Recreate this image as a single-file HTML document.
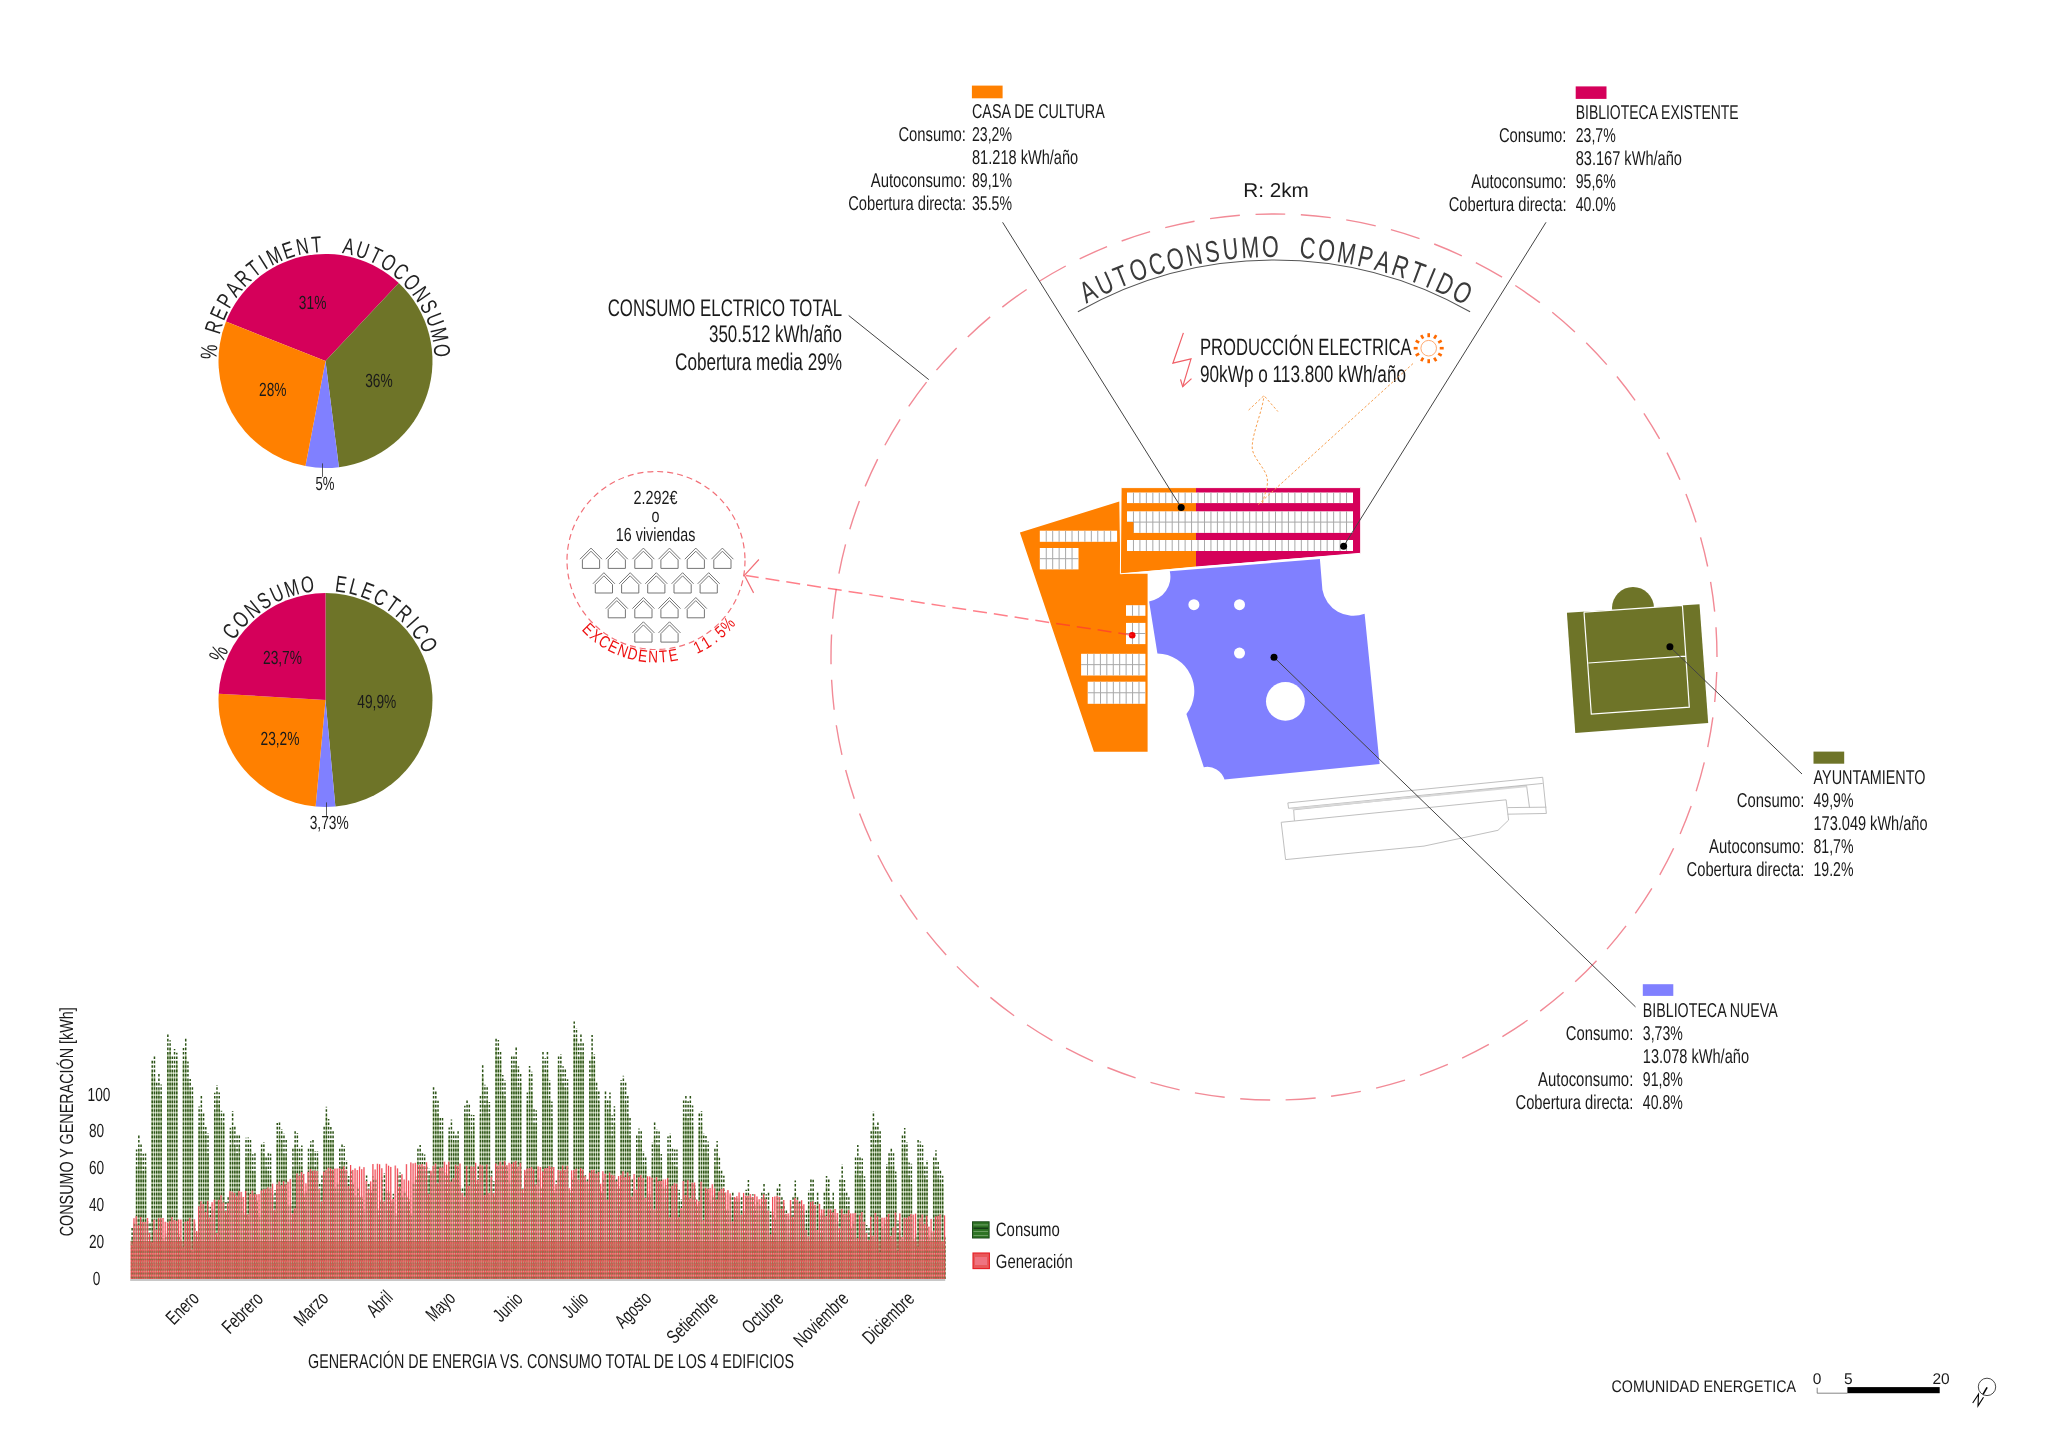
<!DOCTYPE html>
<html><head><meta charset="utf-8"><style>
html,body{margin:0;padding:0;background:#fff;-webkit-font-smoothing:antialiased;}
svg{display:block;font-family:"Liberation Sans", sans-serif;will-change:transform;}
text{text-rendering:geometricPrecision;}
</style></head><body>
<svg width="2048" height="1448" viewBox="0 0 2048 1448">
<rect width="2048" height="1448" fill="#fff"/>
<path d="M325.5,361 L226.01,321.61 A107,107 0 0 1 398.75,283.00 Z" fill="#d5005a"/>
<path d="M325.5,361 L398.75,283.00 A107,107 0 0 1 338.91,467.16 Z" fill="#6e7428"/>
<path d="M325.5,361 L338.91,467.16 A107,107 0 0 1 305.45,466.10 Z" fill="#8080ff"/>
<path d="M325.5,361 L305.45,466.10 A107,107 0 0 1 226.01,321.61 Z" fill="#ff8000"/>
<text x="312.6" y="309.1" font-size="19" text-anchor="middle" fill="#1a1a1a" textLength="27.5" lengthAdjust="spacingAndGlyphs">31%</text>
<text x="378.9" y="386.8" font-size="19" text-anchor="middle" fill="#1a1a1a" textLength="27.5" lengthAdjust="spacingAndGlyphs">36%</text>
<text x="272.8" y="395.7" font-size="19" text-anchor="middle" fill="#1a1a1a" textLength="27.5" lengthAdjust="spacingAndGlyphs">28%</text>
<line x1="322.5" y1="463.4" x2="322.5" y2="476.9" stroke="#333" stroke-width="0.8"/>
<text x="325.0" y="490.4" font-size="19" text-anchor="middle" fill="#1a1a1a" textLength="19.0" lengthAdjust="spacingAndGlyphs">5%</text>
<text transform="translate(216.84,352.34) rotate(-85.44) scale(0.72,1)" font-size="23" text-anchor="middle" fill="#222">%</text>
<text transform="translate(221.24,329.22) rotate(-73.05) scale(0.72,1)" font-size="23" text-anchor="middle" fill="#222">R</text>
<text transform="translate(225.98,316.53) rotate(-65.92) scale(0.72,1)" font-size="23" text-anchor="middle" fill="#222">E</text>
<text transform="translate(232.11,304.80) rotate(-58.96) scale(0.72,1)" font-size="23" text-anchor="middle" fill="#222">P</text>
<text transform="translate(239.60,293.90) rotate(-52.00) scale(0.72,1)" font-size="23" text-anchor="middle" fill="#222">A</text>
<text transform="translate(248.59,283.76) rotate(-44.87) scale(0.72,1)" font-size="23" text-anchor="middle" fill="#222">R</text>
<text transform="translate(258.52,275.01) rotate(-37.92) scale(0.72,1)" font-size="23" text-anchor="middle" fill="#222">T</text>
<text transform="translate(267.23,268.88) rotate(-32.31) scale(0.72,1)" font-size="23" text-anchor="middle" fill="#222">I</text>
<text transform="translate(277.66,263.06) rotate(-26.03) scale(0.72,1)" font-size="23" text-anchor="middle" fill="#222">M</text>
<text transform="translate(290.79,257.67) rotate(-18.57) scale(0.72,1)" font-size="23" text-anchor="middle" fill="#222">E</text>
<text transform="translate(303.88,254.17) rotate(-11.44) scale(0.72,1)" font-size="23" text-anchor="middle" fill="#222">N</text>
<text transform="translate(316.98,252.33) rotate(-4.48) scale(0.72,1)" font-size="23" text-anchor="middle" fill="#222">T</text>
<text transform="translate(347.20,254.18) rotate(11.48) scale(0.72,1)" font-size="23" text-anchor="middle" fill="#222">A</text>
<text transform="translate(360.28,257.70) rotate(18.61) scale(0.72,1)" font-size="23" text-anchor="middle" fill="#222">U</text>
<text transform="translate(372.54,262.67) rotate(25.57) scale(0.72,1)" font-size="23" text-anchor="middle" fill="#222">T</text>
<text transform="translate(384.37,269.27) rotate(32.69) scale(0.72,1)" font-size="23" text-anchor="middle" fill="#222">O</text>
<text transform="translate(395.79,277.69) rotate(40.16) scale(0.72,1)" font-size="23" text-anchor="middle" fill="#222">C</text>
<text transform="translate(406.02,287.53) rotate(47.62) scale(0.72,1)" font-size="23" text-anchor="middle" fill="#222">O</text>
<text transform="translate(414.88,298.62) rotate(55.09) scale(0.72,1)" font-size="23" text-anchor="middle" fill="#222">N</text>
<text transform="translate(421.93,310.19) rotate(62.22) scale(0.72,1)" font-size="23" text-anchor="middle" fill="#222">S</text>
<text transform="translate(427.49,322.55) rotate(69.35) scale(0.72,1)" font-size="23" text-anchor="middle" fill="#222">U</text>
<text transform="translate(431.70,336.44) rotate(76.98) scale(0.72,1)" font-size="23" text-anchor="middle" fill="#222">M</text>
<text transform="translate(434.05,351.09) rotate(84.78) scale(0.72,1)" font-size="23" text-anchor="middle" fill="#222">O</text>
<path d="M325.5,700 L325.50,593.00 A107,107 0 0 1 335.38,806.54 Z" fill="#6e7428"/>
<path d="M325.5,700 L335.38,806.54 A107,107 0 0 1 315.62,806.54 Z" fill="#8080ff"/>
<path d="M325.5,700 L315.62,806.54 A107,107 0 0 1 218.69,693.65 Z" fill="#ff8000"/>
<path d="M325.5,700 L218.69,693.65 A107,107 0 0 1 325.50,593.00 Z" fill="#d5005a"/>
<text x="282.5" y="663.6" font-size="19" text-anchor="middle" fill="#1a1a1a" textLength="39.0" lengthAdjust="spacingAndGlyphs">23,7%</text>
<text x="376.8" y="707.5" font-size="19" text-anchor="middle" fill="#1a1a1a" textLength="39.0" lengthAdjust="spacingAndGlyphs">49,9%</text>
<text x="280.0" y="745.4" font-size="19" text-anchor="middle" fill="#1a1a1a" textLength="39.0" lengthAdjust="spacingAndGlyphs">23,2%</text>
<line x1="326.5" y1="802.4" x2="326.5" y2="815.9" stroke="#333" stroke-width="0.8"/>
<text x="329.2" y="829.3" font-size="19" text-anchor="middle" fill="#1a1a1a" textLength="39.0" lengthAdjust="spacingAndGlyphs">3,73%</text>
<text transform="translate(225.57,656.47) rotate(-66.46) scale(0.72,1)" font-size="23" text-anchor="middle" fill="#222">%</text>
<text transform="translate(237.37,635.86) rotate(-53.95) scale(0.72,1)" font-size="23" text-anchor="middle" fill="#222">C</text>
<text transform="translate(246.53,624.87) rotate(-46.43) scale(0.72,1)" font-size="23" text-anchor="middle" fill="#222">O</text>
<text transform="translate(257.05,615.17) rotate(-38.90) scale(0.72,1)" font-size="23" text-anchor="middle" fill="#222">N</text>
<text transform="translate(268.20,607.27) rotate(-31.71) scale(0.72,1)" font-size="23" text-anchor="middle" fill="#222">S</text>
<text transform="translate(280.26,600.83) rotate(-24.52) scale(0.72,1)" font-size="23" text-anchor="middle" fill="#222">U</text>
<text transform="translate(293.94,595.67) rotate(-16.83) scale(0.72,1)" font-size="23" text-anchor="middle" fill="#222">M</text>
<text transform="translate(308.51,592.33) rotate(-8.97) scale(0.72,1)" font-size="23" text-anchor="middle" fill="#222">O</text>
<text transform="translate(340.08,591.98) rotate(7.69) scale(0.72,1)" font-size="23" text-anchor="middle" fill="#222">E</text>
<text transform="translate(352.55,594.41) rotate(14.37) scale(0.72,1)" font-size="23" text-anchor="middle" fill="#222">L</text>
<text transform="translate(364.65,598.27) rotate(21.05) scale(0.72,1)" font-size="23" text-anchor="middle" fill="#222">E</text>
<text transform="translate(377.07,603.97) rotate(28.24) scale(0.72,1)" font-size="23" text-anchor="middle" fill="#222">C</text>
<text transform="translate(388.42,610.99) rotate(35.26) scale(0.72,1)" font-size="23" text-anchor="middle" fill="#222">T</text>
<text transform="translate(398.82,619.35) rotate(42.27) scale(0.72,1)" font-size="23" text-anchor="middle" fill="#222">R</text>
<text transform="translate(406.85,627.46) rotate(48.28) scale(0.72,1)" font-size="23" text-anchor="middle" fill="#222">I</text>
<text transform="translate(413.99,636.36) rotate(54.28) scale(0.72,1)" font-size="23" text-anchor="middle" fill="#222">C</text>
<text transform="translate(421.56,648.50) rotate(61.80) scale(0.72,1)" font-size="23" text-anchor="middle" fill="#222">O</text>
<rect x="971.9" y="85.6" width="30.7" height="12.7" fill="#ff8000"/>
<text x="972.0" y="118.4" font-size="20" text-anchor="start" fill="#1a1a1a" textLength="132.8" lengthAdjust="spacingAndGlyphs">CASA DE CULTURA</text>
<text x="966.0" y="141.4" font-size="20" text-anchor="end" fill="#1a1a1a" textLength="67.6" lengthAdjust="spacingAndGlyphs">Consumo:</text>
<text x="972.0" y="141.4" font-size="20" text-anchor="start" fill="#1a1a1a" textLength="40.0" lengthAdjust="spacingAndGlyphs">23,2%</text>
<text x="972.0" y="164.4" font-size="20" text-anchor="start" fill="#1a1a1a" textLength="106.2" lengthAdjust="spacingAndGlyphs">81.218 kWh/año</text>
<text x="966.0" y="187.4" font-size="20" text-anchor="end" fill="#1a1a1a" textLength="95.3" lengthAdjust="spacingAndGlyphs">Autoconsumo:</text>
<text x="972.0" y="187.4" font-size="20" text-anchor="start" fill="#1a1a1a" textLength="40.0" lengthAdjust="spacingAndGlyphs">89,1%</text>
<text x="966.0" y="210.4" font-size="20" text-anchor="end" fill="#1a1a1a" textLength="117.8" lengthAdjust="spacingAndGlyphs">Cobertura directa:</text>
<text x="972.0" y="210.4" font-size="20" text-anchor="start" fill="#1a1a1a" textLength="40.0" lengthAdjust="spacingAndGlyphs">35.5%</text>
<rect x="1575.7" y="86.4" width="30.8" height="12.5" fill="#d5005a"/>
<text x="1575.7" y="118.9" font-size="20" text-anchor="start" fill="#1a1a1a" textLength="163.0" lengthAdjust="spacingAndGlyphs">BIBLIOTECA EXISTENTE</text>
<text x="1566.5" y="141.9" font-size="20" text-anchor="end" fill="#1a1a1a" textLength="67.6" lengthAdjust="spacingAndGlyphs">Consumo:</text>
<text x="1575.7" y="141.9" font-size="20" text-anchor="start" fill="#1a1a1a" textLength="40.0" lengthAdjust="spacingAndGlyphs">23,7%</text>
<text x="1575.7" y="164.9" font-size="20" text-anchor="start" fill="#1a1a1a" textLength="106.2" lengthAdjust="spacingAndGlyphs">83.167 kWh/año</text>
<text x="1566.5" y="187.9" font-size="20" text-anchor="end" fill="#1a1a1a" textLength="95.3" lengthAdjust="spacingAndGlyphs">Autoconsumo:</text>
<text x="1575.7" y="187.9" font-size="20" text-anchor="start" fill="#1a1a1a" textLength="40.0" lengthAdjust="spacingAndGlyphs">95,6%</text>
<text x="1566.5" y="210.9" font-size="20" text-anchor="end" fill="#1a1a1a" textLength="117.8" lengthAdjust="spacingAndGlyphs">Cobertura directa:</text>
<text x="1575.7" y="210.9" font-size="20" text-anchor="start" fill="#1a1a1a" textLength="40.0" lengthAdjust="spacingAndGlyphs">40.0%</text>
<rect x="1813.5" y="751.6" width="30.7" height="12.1" fill="#6e7428"/>
<text x="1813.5" y="784.0" font-size="20" text-anchor="start" fill="#1a1a1a" textLength="112.0" lengthAdjust="spacingAndGlyphs">AYUNTAMIENTO</text>
<text x="1804.4" y="807.0" font-size="20" text-anchor="end" fill="#1a1a1a" textLength="67.6" lengthAdjust="spacingAndGlyphs">Consumo:</text>
<text x="1813.5" y="807.0" font-size="20" text-anchor="start" fill="#1a1a1a" textLength="40.0" lengthAdjust="spacingAndGlyphs">49,9%</text>
<text x="1813.5" y="830.0" font-size="20" text-anchor="start" fill="#1a1a1a" textLength="114.0" lengthAdjust="spacingAndGlyphs">173.049 kWh/año</text>
<text x="1804.4" y="853.0" font-size="20" text-anchor="end" fill="#1a1a1a" textLength="95.3" lengthAdjust="spacingAndGlyphs">Autoconsumo:</text>
<text x="1813.5" y="853.0" font-size="20" text-anchor="start" fill="#1a1a1a" textLength="40.0" lengthAdjust="spacingAndGlyphs">81,7%</text>
<text x="1804.4" y="876.0" font-size="20" text-anchor="end" fill="#1a1a1a" textLength="117.8" lengthAdjust="spacingAndGlyphs">Cobertura directa:</text>
<text x="1813.5" y="876.0" font-size="20" text-anchor="start" fill="#1a1a1a" textLength="40.0" lengthAdjust="spacingAndGlyphs">19.2%</text>
<rect x="1642.8" y="984.2" width="30.5" height="11.7" fill="#8080ff"/>
<text x="1642.8" y="1016.9" font-size="20" text-anchor="start" fill="#1a1a1a" textLength="135.0" lengthAdjust="spacingAndGlyphs">BIBLIOTECA NUEVA</text>
<text x="1633.3" y="1039.8" font-size="20" text-anchor="end" fill="#1a1a1a" textLength="67.6" lengthAdjust="spacingAndGlyphs">Consumo:</text>
<text x="1642.8" y="1039.8" font-size="20" text-anchor="start" fill="#1a1a1a" textLength="40.0" lengthAdjust="spacingAndGlyphs">3,73%</text>
<text x="1642.8" y="1062.7" font-size="20" text-anchor="start" fill="#1a1a1a" textLength="106.2" lengthAdjust="spacingAndGlyphs">13.078 kWh/año</text>
<text x="1633.3" y="1085.6" font-size="20" text-anchor="end" fill="#1a1a1a" textLength="95.3" lengthAdjust="spacingAndGlyphs">Autoconsumo:</text>
<text x="1642.8" y="1085.6" font-size="20" text-anchor="start" fill="#1a1a1a" textLength="40.0" lengthAdjust="spacingAndGlyphs">91,8%</text>
<text x="1633.3" y="1108.5" font-size="20" text-anchor="end" fill="#1a1a1a" textLength="117.8" lengthAdjust="spacingAndGlyphs">Cobertura directa:</text>
<text x="1642.8" y="1108.5" font-size="20" text-anchor="start" fill="#1a1a1a" textLength="40.0" lengthAdjust="spacingAndGlyphs">40.8%</text>
<circle cx="1274" cy="657" r="443" fill="none" stroke="#f28a96" stroke-width="1.4" stroke-dasharray="30 15.631" stroke-dashoffset="30.5"/>
<text x="1276.0" y="197.3" font-size="20" text-anchor="middle" fill="#1a1a1a" textLength="65.6" lengthAdjust="spacingAndGlyphs">R: 2km</text>
<path d="M1077.9,311.8 A397,397 0 0 1 1470.1,311.8" fill="none" stroke="#555" stroke-width="1.1"/>
<text transform="translate(1092.65,300.47) rotate(-26.96) scale(0.72,1)" font-size="30" text-anchor="middle" fill="#3a3a3a">A</text>
<text transform="translate(1108.83,292.70) rotate(-24.39) scale(0.72,1)" font-size="30" text-anchor="middle" fill="#3a3a3a">U</text>
<text transform="translate(1124.94,285.81) rotate(-21.88) scale(0.72,1)" font-size="30" text-anchor="middle" fill="#3a3a3a">T</text>
<text transform="translate(1141.74,279.50) rotate(-19.31) scale(0.72,1)" font-size="30" text-anchor="middle" fill="#3a3a3a">O</text>
<text transform="translate(1159.61,273.71) rotate(-16.62) scale(0.72,1)" font-size="30" text-anchor="middle" fill="#3a3a3a">C</text>
<text transform="translate(1177.73,268.76) rotate(-13.93) scale(0.72,1)" font-size="30" text-anchor="middle" fill="#3a3a3a">O</text>
<text transform="translate(1196.06,264.67) rotate(-11.24) scale(0.72,1)" font-size="30" text-anchor="middle" fill="#3a3a3a">N</text>
<text transform="translate(1213.74,261.57) rotate(-8.67) scale(0.72,1)" font-size="30" text-anchor="middle" fill="#3a3a3a">S</text>
<text transform="translate(1231.53,259.26) rotate(-6.09) scale(0.72,1)" font-size="30" text-anchor="middle" fill="#3a3a3a">U</text>
<text transform="translate(1250.67,257.68) rotate(-3.34) scale(0.72,1)" font-size="30" text-anchor="middle" fill="#3a3a3a">M</text>
<text transform="translate(1270.28,257.02) rotate(-0.53) scale(0.72,1)" font-size="30" text-anchor="middle" fill="#3a3a3a">O</text>
<text transform="translate(1306.68,258.34) rotate(4.69) scale(0.72,1)" font-size="30" text-anchor="middle" fill="#3a3a3a">C</text>
<text transform="translate(1325.36,260.31) rotate(7.38) scale(0.72,1)" font-size="30" text-anchor="middle" fill="#3a3a3a">O</text>
<text transform="translate(1344.75,263.31) rotate(10.19) scale(0.72,1)" font-size="30" text-anchor="middle" fill="#3a3a3a">M</text>
<text transform="translate(1363.16,267.06) rotate(12.88) scale(0.72,1)" font-size="30" text-anchor="middle" fill="#3a3a3a">P</text>
<text transform="translate(1380.15,271.34) rotate(15.39) scale(0.72,1)" font-size="30" text-anchor="middle" fill="#3a3a3a">A</text>
<text transform="translate(1397.35,276.49) rotate(17.96) scale(0.72,1)" font-size="30" text-anchor="middle" fill="#3a3a3a">R</text>
<text transform="translate(1413.89,282.26) rotate(20.47) scale(0.72,1)" font-size="30" text-anchor="middle" fill="#3a3a3a">T</text>
<text transform="translate(1427.07,287.45) rotate(22.50) scale(0.72,1)" font-size="30" text-anchor="middle" fill="#3a3a3a">I</text>
<text transform="translate(1440.82,293.45) rotate(24.65) scale(0.72,1)" font-size="30" text-anchor="middle" fill="#3a3a3a">D</text>
<text transform="translate(1457.71,301.68) rotate(27.34) scale(0.72,1)" font-size="30" text-anchor="middle" fill="#3a3a3a">O</text>
<text x="842.0" y="315.5" font-size="24" text-anchor="end" fill="#1a1a1a" textLength="234.3" lengthAdjust="spacingAndGlyphs">CONSUMO ELCTRICO TOTAL</text>
<text x="842.0" y="342.1" font-size="24" text-anchor="end" fill="#1a1a1a" textLength="133.0" lengthAdjust="spacingAndGlyphs">350.512 kWh/año</text>
<text x="842.0" y="369.5" font-size="24" text-anchor="end" fill="#1a1a1a" textLength="167.0" lengthAdjust="spacingAndGlyphs">Cobertura media 29%</text>
<text x="1200.0" y="355.3" font-size="23.5" text-anchor="start" fill="#1a1a1a" textLength="211.7" lengthAdjust="spacingAndGlyphs">PRODUCCIÓN ELECTRICA</text>
<text x="1200.0" y="382.3" font-size="23.5" text-anchor="start" fill="#1a1a1a" textLength="206.0" lengthAdjust="spacingAndGlyphs">90kWp o 113.800 kWh/año</text>
<polyline points="1183.4,332.9 1172.9,363.2 1191,358.8 1182.7,386.6" fill="none" stroke="#f06068" stroke-width="1.2"/>
<polyline points="1180.5,379.3 1182.7,386.6 1191.5,378.6" fill="none" stroke="#f06068" stroke-width="1.2"/>
<circle cx="1428.7" cy="348.2" r="7.8" fill="none" stroke="#ffa060" stroke-width="0.9"/>
<line x1="1439.70" y1="348.20" x2="1443.70" y2="348.20" stroke="#ff6a00" stroke-width="2.6"/>
<line x1="1438.23" y1="353.70" x2="1441.69" y2="355.70" stroke="#ff6a00" stroke-width="2.6"/>
<line x1="1434.20" y1="357.73" x2="1436.20" y2="361.19" stroke="#ff6a00" stroke-width="2.6"/>
<line x1="1428.70" y1="359.20" x2="1428.70" y2="363.20" stroke="#ff6a00" stroke-width="2.6"/>
<line x1="1423.20" y1="357.73" x2="1421.20" y2="361.19" stroke="#ff6a00" stroke-width="2.6"/>
<line x1="1419.17" y1="353.70" x2="1415.71" y2="355.70" stroke="#ff6a00" stroke-width="2.6"/>
<line x1="1417.70" y1="348.20" x2="1413.70" y2="348.20" stroke="#ff6a00" stroke-width="2.6"/>
<line x1="1419.17" y1="342.70" x2="1415.71" y2="340.70" stroke="#ff6a00" stroke-width="2.6"/>
<line x1="1423.20" y1="338.67" x2="1421.20" y2="335.21" stroke="#ff6a00" stroke-width="2.6"/>
<line x1="1428.70" y1="337.20" x2="1428.70" y2="333.20" stroke="#ff6a00" stroke-width="2.6"/>
<line x1="1434.20" y1="338.67" x2="1436.20" y2="335.21" stroke="#ff6a00" stroke-width="2.6"/>
<line x1="1438.23" y1="342.70" x2="1441.69" y2="340.70" stroke="#ff6a00" stroke-width="2.6"/>
<polygon points="1019.9,532.5 1119.3,501.5 1120.4,573.8 1147.6,573.8 1147.6,751.7 1093.9,751.7" fill="#ff8000"/>
<polygon points="1121.1,487.6 1196,487.6 1196,566.5 1120.4,573.8" fill="#ff8000"/>
<polygon points="1196,487.6 1360.7,487.6 1360.7,553.3 1196,566.5" fill="#d5005a"/>
<polygon points="1121.1,487.6 1360.7,487.6 1360.7,553.3 1120.4,573.8" fill="none" stroke="#fff" stroke-width="1"/>
<rect x="1127" y="492.5" width="226.0" height="10.6" fill="#fff"/>
<path d="M1133.46,492.5V503.1M1139.91,492.5V503.1M1146.37,492.5V503.1M1152.83,492.5V503.1M1159.29,492.5V503.1M1165.74,492.5V503.1M1172.20,492.5V503.1M1178.66,492.5V503.1M1185.11,492.5V503.1M1191.57,492.5V503.1M1198.03,492.5V503.1M1204.49,492.5V503.1M1210.94,492.5V503.1M1217.40,492.5V503.1M1223.86,492.5V503.1M1230.31,492.5V503.1M1236.77,492.5V503.1M1243.23,492.5V503.1M1249.69,492.5V503.1M1256.14,492.5V503.1M1262.60,492.5V503.1M1269.06,492.5V503.1M1275.51,492.5V503.1M1281.97,492.5V503.1M1288.43,492.5V503.1M1294.89,492.5V503.1M1301.34,492.5V503.1M1307.80,492.5V503.1M1314.26,492.5V503.1M1320.71,492.5V503.1M1327.17,492.5V503.1M1333.63,492.5V503.1M1340.09,492.5V503.1M1346.54,492.5V503.1" stroke="#a8a8a8" stroke-width="1" fill="none"/>
<rect x="1127" y="511.3" width="226.0" height="21.6" fill="#fff"/>
<path d="M1133.46,511.3V532.9M1139.91,511.3V532.9M1146.37,511.3V532.9M1152.83,511.3V532.9M1159.29,511.3V532.9M1165.74,511.3V532.9M1172.20,511.3V532.9M1178.66,511.3V532.9M1185.11,511.3V532.9M1191.57,511.3V532.9M1198.03,511.3V532.9M1204.49,511.3V532.9M1210.94,511.3V532.9M1217.40,511.3V532.9M1223.86,511.3V532.9M1230.31,511.3V532.9M1236.77,511.3V532.9M1243.23,511.3V532.9M1249.69,511.3V532.9M1256.14,511.3V532.9M1262.60,511.3V532.9M1269.06,511.3V532.9M1275.51,511.3V532.9M1281.97,511.3V532.9M1288.43,511.3V532.9M1294.89,511.3V532.9M1301.34,511.3V532.9M1307.80,511.3V532.9M1314.26,511.3V532.9M1320.71,511.3V532.9M1327.17,511.3V532.9M1333.63,511.3V532.9M1340.09,511.3V532.9M1346.54,511.3V532.9M1127,522.10H1353" stroke="#a8a8a8" stroke-width="1" fill="none"/>
<rect x="1127" y="522" width="6.5" height="11" fill="#ff8000"/>
<rect x="1127" y="540" width="226.0" height="11.0" fill="#fff"/>
<path d="M1133.46,540V551M1139.91,540V551M1146.37,540V551M1152.83,540V551M1159.29,540V551M1165.74,540V551M1172.20,540V551M1178.66,540V551M1185.11,540V551M1191.57,540V551M1198.03,540V551M1204.49,540V551M1210.94,540V551M1217.40,540V551M1223.86,540V551M1230.31,540V551M1236.77,540V551M1243.23,540V551M1249.69,540V551M1256.14,540V551M1262.60,540V551M1269.06,540V551M1275.51,540V551M1281.97,540V551M1288.43,540V551M1294.89,540V551M1301.34,540V551M1307.80,540V551M1314.26,540V551M1320.71,540V551M1327.17,540V551M1333.63,540V551M1340.09,540V551M1346.54,540V551" stroke="#a8a8a8" stroke-width="1" fill="none"/>
<rect x="1039.8" y="530.7" width="77.3" height="11.1" fill="#fff"/>
<path d="M1046.24,530.7V541.8M1052.68,530.7V541.8M1059.12,530.7V541.8M1065.57,530.7V541.8M1072.01,530.7V541.8M1078.45,530.7V541.8M1084.89,530.7V541.8M1091.33,530.7V541.8M1097.77,530.7V541.8M1104.22,530.7V541.8M1110.66,530.7V541.8" stroke="#a8a8a8" stroke-width="1" fill="none"/>
<rect x="1039.8" y="548" width="38.7" height="21.4" fill="#fff"/>
<path d="M1046.25,548V569.4M1052.70,548V569.4M1059.15,548V569.4M1065.60,548V569.4M1072.05,548V569.4M1039.8,558.70H1078.5" stroke="#a8a8a8" stroke-width="1" fill="none"/>
<rect x="1126" y="605.2" width="19.4" height="10.6" fill="#fff"/>
<path d="M1132.47,605.2V615.8M1138.93,605.2V615.8" stroke="#a8a8a8" stroke-width="1" fill="none"/>
<rect x="1126" y="622.9" width="19.4" height="21.2" fill="#fff"/>
<path d="M1132.47,622.9V644.1M1138.93,622.9V644.1M1126,633.50H1145.4" stroke="#a8a8a8" stroke-width="1" fill="none"/>
<rect x="1081.1" y="653.8" width="64.3" height="21.7" fill="#fff"/>
<path d="M1087.53,653.8V675.5M1093.96,653.8V675.5M1100.39,653.8V675.5M1106.82,653.8V675.5M1113.25,653.8V675.5M1119.68,653.8V675.5M1126.11,653.8V675.5M1132.54,653.8V675.5M1138.97,653.8V675.5M1081.1,664.65H1145.4" stroke="#a8a8a8" stroke-width="1" fill="none"/>
<rect x="1087.7" y="681.7" width="57.7" height="22.1" fill="#fff"/>
<path d="M1094.11,681.7V703.8M1100.52,681.7V703.8M1106.93,681.7V703.8M1113.34,681.7V703.8M1119.76,681.7V703.8M1126.17,681.7V703.8M1132.58,681.7V703.8M1138.99,681.7V703.8M1087.7,692.75H1145.4" stroke="#a8a8a8" stroke-width="1" fill="none"/>
<path d="M1169.8,571.2 L1319.9,559.1 L1322.4,589.8 A31.5,31.5 0 0 0 1364.6,613.8 L1379.6,763.9 L1224.5,779.6 A18,18 0 0 0 1203.8,767.2 L1186.4,714.1 A37.5,37.5 0 0 0 1157.4,653.6 L1149.1,601.4 A25,25 0 0 0 1169.8,571.2 Z" fill="#8080ff"/>
<circle cx="1193.9" cy="604.7" r="5.5" fill="#fff"/>
<circle cx="1239.5" cy="604.7" r="5.5" fill="#fff"/>
<circle cx="1239.5" cy="653.1" r="5.5" fill="#fff"/>
<circle cx="1285.4" cy="701.4" r="19.4" fill="#fff"/>
<circle cx="1633" cy="608" r="21" fill="#6e7428"/>
<polygon points="1566.9,612.8 1699.5,604.2 1708.2,723.1 1575.3,732.9" fill="#6e7428"/>
<path d="M1584,612.2 L1591.3,714 L1689.3,707.2 L1682.4,605.3 M1588.5,663 L1685.8,656.1 M1584,612.2 L1682.4,605.3" stroke="#fff" stroke-width="1.2" fill="none"/>
<g fill="none" stroke="#b8b8b8" stroke-width="0.9"><polygon points="1281.2,822.3 1506.1,799.8 1508.6,820.1 1498,830.3 1424,846.1 1285.6,859.6"/><path d="M1287.83,802.92 L1542.70,777.28 L1546.36,813.46 L1507.55,814.20 M1287.83,802.92 L1288.56,808.34 L1542.70,783.44 M1293.69,809.80 L1526.59,785.63 L1529.52,807.61 M1293.69,809.80 L1294.42,820.79 M1507.55,807.61 L1546.36,807.17"/></g>
<polygon points="1288.56,808.34 1526.59,785.63 1526.59,787.2 1293.69,809.8" fill="#d8d8d8"/>
<path d="M1262.5,503.1 C1265,492 1270,484 1266,474 C1260,462 1251,455 1252.3,445 C1253,432 1262,412 1264,396" fill="none" stroke="#f7a050" stroke-width="1" stroke-dasharray="2.5 2"/>
<polyline points="1248.6,410.1 1264,395.6 1277.9,411.5" fill="none" stroke="#f7a050" stroke-width="1" stroke-dasharray="2.5 2"/>
<line x1="1258.1" y1="504.6" x2="1413.4" y2="363.2" stroke="#f7a050" stroke-width="1" stroke-dasharray="2.5 2"/>
<line x1="1002.6" y1="222.3" x2="1181.2" y2="507.5" stroke="#444" stroke-width="1"/>
<line x1="1546" y1="222.3" x2="1343.6" y2="546.2" stroke="#444" stroke-width="1"/>
<line x1="848.7" y1="315.5" x2="928.75" y2="379.6" stroke="#444" stroke-width="1"/>
<line x1="1669.9" y1="646.8" x2="1802" y2="774" stroke="#444" stroke-width="1"/>
<line x1="1274" y1="657.3" x2="1635.5" y2="1006.9" stroke="#444" stroke-width="1"/>
<circle cx="1181.2" cy="507.5" r="3.5" fill="#000"/>
<circle cx="1343.6" cy="546.2" r="3.5" fill="#000"/>
<circle cx="1669.9" cy="646.8" r="3.5" fill="#000"/>
<circle cx="1274" cy="657.3" r="3.5" fill="#000"/>
<circle cx="1132.2" cy="635.2" r="3.3" fill="#e00"/>
<line x1="1132.2" y1="635.2" x2="746" y2="575.6" stroke="#ff2a3a" stroke-opacity="0.6" stroke-width="1.5" stroke-dasharray="14 7"/>
<polyline points="758.9,559.5 744.4,575.4 753.6,592.9" fill="none" stroke="#f27078" stroke-width="1.2"/>
<circle cx="656" cy="560.5" r="89" fill="none" stroke="#f27078" stroke-width="1.2" stroke-dasharray="6 4"/>
<text x="655.6" y="504.1" font-size="19" text-anchor="middle" fill="#1a1a1a" textLength="44.0" lengthAdjust="spacingAndGlyphs">2.292€</text>
<text x="655.6" y="522.0" font-size="19" text-anchor="middle" fill="#1a1a1a" textLength="8.0" lengthAdjust="spacingAndGlyphs">o</text>
<text x="655.6" y="540.5" font-size="19" text-anchor="middle" fill="#1a1a1a" textLength="79.5" lengthAdjust="spacingAndGlyphs">16 viviendas</text>
<path d="M580.0,559.2 L591.0,548.1 L602.0,559.2 M582.4,568.4 V559.9 L591.0,551.2 L599.6,559.9 V568.4 Z" fill="none" stroke="#6e6e6e" stroke-width="0.95"/>
<path d="M605.8,559.2 L616.8,548.1 L627.8,559.2 M608.2,568.4 V559.9 L616.8,551.2 L625.4,559.9 V568.4 Z" fill="none" stroke="#6e6e6e" stroke-width="0.95"/>
<path d="M632.4,559.2 L643.4,548.1 L654.4,559.2 M634.8,568.4 V559.9 L643.4,551.2 L652.0,559.9 V568.4 Z" fill="none" stroke="#6e6e6e" stroke-width="0.95"/>
<path d="M658.5,559.2 L669.5,548.1 L680.5,559.2 M660.9,568.4 V559.9 L669.5,551.2 L678.1,559.9 V568.4 Z" fill="none" stroke="#6e6e6e" stroke-width="0.95"/>
<path d="M684.8,559.2 L695.8,548.1 L706.8,559.2 M687.2,568.4 V559.9 L695.8,551.2 L704.4,559.9 V568.4 Z" fill="none" stroke="#6e6e6e" stroke-width="0.95"/>
<path d="M711.4,559.2 L722.4,548.1 L733.4,559.2 M713.8,568.4 V559.9 L722.4,551.2 L731.0,559.9 V568.4 Z" fill="none" stroke="#6e6e6e" stroke-width="0.95"/>
<path d="M592.9,583.8 L603.9,572.7 L614.9,583.8 M595.3,593.0 V584.5 L603.9,575.8 L612.5,584.5 V593.0 Z" fill="none" stroke="#6e6e6e" stroke-width="0.95"/>
<path d="M619.2,583.8 L630.2,572.7 L641.2,583.8 M621.6,593.0 V584.5 L630.2,575.8 L638.8,584.5 V593.0 Z" fill="none" stroke="#6e6e6e" stroke-width="0.95"/>
<path d="M645.3,583.8 L656.3,572.7 L667.3,583.8 M647.7,593.0 V584.5 L656.3,575.8 L664.9,584.5 V593.0 Z" fill="none" stroke="#6e6e6e" stroke-width="0.95"/>
<path d="M671.6,583.8 L682.6,572.7 L693.6,583.8 M674.0,593.0 V584.5 L682.6,575.8 L691.2,584.5 V593.0 Z" fill="none" stroke="#6e6e6e" stroke-width="0.95"/>
<path d="M697.7,583.8 L708.7,572.7 L719.7,583.8 M700.1,593.0 V584.5 L708.7,575.8 L717.3,584.5 V593.0 Z" fill="none" stroke="#6e6e6e" stroke-width="0.95"/>
<path d="M605.8,608.6 L616.8,597.5 L627.8,608.6 M608.2,617.8 V609.3 L616.8,600.6 L625.4,609.3 V617.8 Z" fill="none" stroke="#6e6e6e" stroke-width="0.95"/>
<path d="M632.4,608.6 L643.4,597.5 L654.4,608.6 M634.8,617.8 V609.3 L643.4,600.6 L652.0,609.3 V617.8 Z" fill="none" stroke="#6e6e6e" stroke-width="0.95"/>
<path d="M658.5,608.6 L669.5,597.5 L680.5,608.6 M660.9,617.8 V609.3 L669.5,600.6 L678.1,609.3 V617.8 Z" fill="none" stroke="#6e6e6e" stroke-width="0.95"/>
<path d="M684.8,608.6 L695.8,597.5 L706.8,608.6 M687.2,617.8 V609.3 L695.8,600.6 L704.4,609.3 V617.8 Z" fill="none" stroke="#6e6e6e" stroke-width="0.95"/>
<path d="M632.4,632.9 L643.4,621.8 L654.4,632.9 M634.8,642.1 V633.6 L643.4,624.9 L652.0,633.6 V642.1 Z" fill="none" stroke="#6e6e6e" stroke-width="0.95"/>
<path d="M658.5,632.9 L669.5,621.8 L680.5,632.9 M660.9,642.1 V633.6 L669.5,624.9 L678.1,633.6 V642.1 Z" fill="none" stroke="#6e6e6e" stroke-width="0.95"/>
<text transform="translate(584.38,633.12) rotate(44.60) scale(0.8,1)" font-size="17" text-anchor="middle" fill="#ee1111">E</text>
<text transform="translate(592.41,640.25) rotate(38.56) scale(0.8,1)" font-size="17" text-anchor="middle" fill="#ee1111">X</text>
<text transform="translate(601.28,646.58) rotate(32.44) scale(0.8,1)" font-size="17" text-anchor="middle" fill="#ee1111">C</text>
<text transform="translate(610.78,651.93) rotate(26.32) scale(0.8,1)" font-size="17" text-anchor="middle" fill="#ee1111">E</text>
<text transform="translate(620.78,656.23) rotate(20.20) scale(0.8,1)" font-size="17" text-anchor="middle" fill="#ee1111">N</text>
<text transform="translate(631.34,659.47) rotate(13.99) scale(0.8,1)" font-size="17" text-anchor="middle" fill="#ee1111">D</text>
<text transform="translate(642.04,661.54) rotate(7.87) scale(0.8,1)" font-size="17" text-anchor="middle" fill="#ee1111">E</text>
<text transform="translate(652.89,662.45) rotate(1.75) scale(0.8,1)" font-size="17" text-anchor="middle" fill="#ee1111">N</text>
<text transform="translate(663.63,662.21) rotate(-4.29) scale(0.8,1)" font-size="17" text-anchor="middle" fill="#ee1111">T</text>
<text transform="translate(674.14,660.87) rotate(-10.24) scale(0.8,1)" font-size="17" text-anchor="middle" fill="#ee1111">E</text>
<text transform="translate(700.41,652.33) rotate(-25.81) scale(0.8,1)" font-size="17" text-anchor="middle" fill="#ee1111">1</text>
<text transform="translate(709.31,647.46) rotate(-31.51) scale(0.8,1)" font-size="17" text-anchor="middle" fill="#ee1111">1</text>
<text transform="translate(717.07,642.19) rotate(-36.78) scale(0.8,1)" font-size="17" text-anchor="middle" fill="#ee1111">.</text>
<text transform="translate(724.32,636.24) rotate(-42.05) scale(0.8,1)" font-size="17" text-anchor="middle" fill="#ee1111">5</text>
<text transform="translate(732.11,628.40) rotate(-48.26) scale(0.8,1)" font-size="17" text-anchor="middle" fill="#ee1111">%</text>
<text x="1611.5" y="1391.8" font-size="16.8" text-anchor="start" fill="#1a1a1a" textLength="184.6" lengthAdjust="spacingAndGlyphs">COMUNIDAD ENERGETICA</text>
<text x="1817.0" y="1383.6" font-size="15.5" text-anchor="middle" fill="#1a1a1a">0</text>
<text x="1848.2" y="1383.6" font-size="15.5" text-anchor="middle" fill="#1a1a1a">5</text>
<text x="1941.0" y="1383.6" font-size="15.5" text-anchor="middle" fill="#1a1a1a">20</text>
<path d="M1817.2,1387.7 V1393.2 H1847.4" fill="none" stroke="#666" stroke-width="0.8"/>
<rect x="1847.4" y="1387.1" width="92.3" height="6.1" fill="#000"/>
<circle cx="1987" cy="1386.9" r="8.7" fill="none" stroke="#333" stroke-width="0.9"/>
<line x1="1987.1" y1="1387.4" x2="1983" y2="1394.3" stroke="#000" stroke-width="1.6"/>
<path d="M1972.7,1403 L1978.5,1394.3 L1978,1405.9 L1983.5,1397.3" fill="none" stroke="#000" stroke-width="1.1"/>
<defs><pattern id="pg" width="3" height="4.4" patternUnits="userSpaceOnUse"><rect width="3" height="4.4" fill="#d2dfc2"/><rect y="0" width="3" height="2.2" fill="#4a6a2c"/></pattern><pattern id="pr" width="3" height="3" patternUnits="userSpaceOnUse"><rect width="3" height="3" fill="#ee6a6a"/><rect y="2" width="3" height="1" fill="#f6b0a8"/></pattern></defs>
<path d="M131.35,1279.0V1238.9h1.56V1279.0zM133.58,1279.0V1229.8h1.56V1279.0zM135.81,1279.0V1166.4h1.56V1279.0zM138.04,1279.0V1151.5h1.56V1279.0zM140.28,1279.0V1157.4h1.56V1279.0zM142.51,1279.0V1170.8h1.56V1279.0zM144.74,1279.0V1167.6h1.56V1279.0zM146.98,1279.0V1242.4h1.56V1279.0zM149.21,1279.0V1241.8h1.56V1279.0zM151.44,1279.0V1072.0h1.56V1279.0zM153.67,1279.0V1076.6h1.56V1279.0zM155.91,1279.0V1089.7h1.56V1279.0zM158.14,1279.0V1089.6h1.56V1279.0zM160.37,1279.0V1098.3h1.56V1279.0zM162.61,1279.0V1249.3h1.56V1279.0zM164.84,1279.0V1242.0h1.56V1279.0zM167.07,1279.0V1053.2h1.56V1279.0zM169.30,1279.0V1048.4h1.56V1279.0zM171.54,1279.0V1070.2h1.56V1279.0zM173.77,1279.0V1070.1h1.56V1279.0zM176.00,1279.0V1062.8h1.56V1279.0zM178.24,1279.0V1244.6h1.56V1279.0zM180.47,1279.0V1255.8h1.56V1279.0zM182.70,1279.0V1063.0h1.56V1279.0zM184.93,1279.0V1055.0h1.56V1279.0zM187.17,1279.0V1080.9h1.56V1279.0zM189.40,1279.0V1089.4h1.56V1279.0zM191.63,1279.0V1098.3h1.56V1279.0zM193.87,1279.0V1236.0h1.56V1279.0zM196.10,1279.0V1241.3h1.56V1279.0zM198.33,1279.0V1126.8h1.56V1279.0zM200.56,1279.0V1114.0h1.56V1279.0zM202.80,1279.0V1131.3h1.56V1279.0zM205.03,1279.0V1135.0h1.56V1279.0zM207.26,1279.0V1153.0h1.56V1279.0zM209.50,1279.0V1225.1h1.56V1279.0zM211.73,1279.0V1223.1h1.56V1279.0zM213.96,1279.0V1111.2h1.56V1279.0zM216.19,1279.0V1099.3h1.56V1279.0zM218.43,1279.0V1103.8h1.56V1279.0zM220.66,1279.0V1120.3h1.56V1279.0zM222.89,1279.0V1124.4h1.56V1279.0zM225.13,1279.0V1210.5h1.56V1279.0zM227.36,1279.0V1209.8h1.56V1279.0zM229.59,1279.0V1146.2h1.56V1279.0zM231.82,1279.0V1128.7h1.56V1279.0zM234.06,1279.0V1146.3h1.56V1279.0zM236.29,1279.0V1153.0h1.56V1279.0zM238.52,1279.0V1146.6h1.56V1279.0zM240.76,1279.0V1212.3h1.56V1279.0zM242.99,1279.0V1226.5h1.56V1279.0zM245.22,1279.0V1156.8h1.56V1279.0zM247.45,1279.0V1152.9h1.56V1279.0zM249.69,1279.0V1150.3h1.56V1279.0zM251.92,1279.0V1171.3h1.56V1279.0zM254.15,1279.0V1173.2h1.56V1279.0zM256.39,1279.0V1211.7h1.56V1279.0zM258.62,1279.0V1235.3h1.56V1279.0zM260.85,1279.0V1152.0h1.56V1279.0zM263.08,1279.0V1153.7h1.56V1279.0zM265.32,1279.0V1168.8h1.56V1279.0zM267.55,1279.0V1170.7h1.56V1279.0zM269.78,1279.0V1174.9h1.56V1279.0zM272.02,1279.0V1212.9h1.56V1279.0zM274.25,1279.0V1202.9h1.56V1279.0zM276.48,1279.0V1143.2h1.56V1279.0zM278.71,1279.0V1133.6h1.56V1279.0zM280.95,1279.0V1140.2h1.56V1279.0zM283.18,1279.0V1154.1h1.56V1279.0zM285.41,1279.0V1155.7h1.56V1279.0zM287.65,1279.0V1222.3h1.56V1279.0zM289.88,1279.0V1220.3h1.56V1279.0zM292.11,1279.0V1168.9h1.56V1279.0zM294.34,1279.0V1145.6h1.56V1279.0zM296.58,1279.0V1152.7h1.56V1279.0zM298.81,1279.0V1164.9h1.56V1279.0zM301.04,1279.0V1165.5h1.56V1279.0zM303.28,1279.0V1207.4h1.56V1279.0zM305.51,1279.0V1208.9h1.56V1279.0zM307.74,1279.0V1164.6h1.56V1279.0zM309.97,1279.0V1153.5h1.56V1279.0zM312.21,1279.0V1149.3h1.56V1279.0zM314.44,1279.0V1167.7h1.56V1279.0zM316.67,1279.0V1160.1h1.56V1279.0zM318.91,1279.0V1203.9h1.56V1279.0zM321.14,1279.0V1185.6h1.56V1279.0zM323.37,1279.0V1134.7h1.56V1279.0zM325.60,1279.0V1116.2h1.56V1279.0zM327.84,1279.0V1140.0h1.56V1279.0zM330.07,1279.0V1139.9h1.56V1279.0zM332.30,1279.0V1140.0h1.56V1279.0zM334.54,1279.0V1195.0h1.56V1279.0zM336.77,1279.0V1191.5h1.56V1279.0zM339.00,1279.0V1166.1h1.56V1279.0zM341.23,1279.0V1161.1h1.56V1279.0zM343.47,1279.0V1164.1h1.56V1279.0zM345.70,1279.0V1178.3h1.56V1279.0zM347.93,1279.0V1184.8h1.56V1279.0zM350.17,1279.0V1186.4h1.56V1279.0zM352.40,1279.0V1196.3h1.56V1279.0zM354.63,1279.0V1214.7h1.56V1279.0zM356.86,1279.0V1206.5h1.56V1279.0zM359.10,1279.0V1216.1h1.56V1279.0zM361.33,1279.0V1205.9h1.56V1279.0zM363.56,1279.0V1230.6h1.56V1279.0zM365.80,1279.0V1196.3h1.56V1279.0zM368.03,1279.0V1205.0h1.56V1279.0zM370.26,1279.0V1199.3h1.56V1279.0zM372.49,1279.0V1186.9h1.56V1279.0zM374.73,1279.0V1188.0h1.56V1279.0zM376.96,1279.0V1216.8h1.56V1279.0zM379.19,1279.0V1219.8h1.56V1279.0zM381.43,1279.0V1196.1h1.56V1279.0zM383.66,1279.0V1189.9h1.56V1279.0zM385.89,1279.0V1209.8h1.56V1279.0zM388.12,1279.0V1208.9h1.56V1279.0zM390.36,1279.0V1213.4h1.56V1279.0zM392.59,1279.0V1203.2h1.56V1279.0zM394.82,1279.0V1223.4h1.56V1279.0zM397.06,1279.0V1192.9h1.56V1279.0zM399.29,1279.0V1183.5h1.56V1279.0zM401.52,1279.0V1208.0h1.56V1279.0zM403.75,1279.0V1204.8h1.56V1279.0zM405.99,1279.0V1204.2h1.56V1279.0zM408.22,1279.0V1210.3h1.56V1279.0zM410.45,1279.0V1226.0h1.56V1279.0zM412.69,1279.0V1200.4h1.56V1279.0zM414.92,1279.0V1189.7h1.56V1279.0zM417.15,1279.0V1160.4h1.56V1279.0zM419.38,1279.0V1166.5h1.56V1279.0zM421.62,1279.0V1166.5h1.56V1279.0zM423.85,1279.0V1174.4h1.56V1279.0zM426.08,1279.0V1183.4h1.56V1279.0zM428.32,1279.0V1177.2h1.56V1279.0zM430.55,1279.0V1185.3h1.56V1279.0zM432.78,1279.0V1100.9h1.56V1279.0zM435.01,1279.0V1109.9h1.56V1279.0zM437.25,1279.0V1113.6h1.56V1279.0zM439.48,1279.0V1134.5h1.56V1279.0zM441.71,1279.0V1133.6h1.56V1279.0zM443.95,1279.0V1183.6h1.56V1279.0zM446.18,1279.0V1194.2h1.56V1279.0zM448.41,1279.0V1136.7h1.56V1279.0zM450.64,1279.0V1138.8h1.56V1279.0zM452.88,1279.0V1141.9h1.56V1279.0zM455.11,1279.0V1141.9h1.56V1279.0zM457.34,1279.0V1141.6h1.56V1279.0zM459.58,1279.0V1203.6h1.56V1279.0zM461.81,1279.0V1208.9h1.56V1279.0zM464.04,1279.0V1113.8h1.56V1279.0zM466.27,1279.0V1114.9h1.56V1279.0zM468.51,1279.0V1119.3h1.56V1279.0zM470.74,1279.0V1133.9h1.56V1279.0zM472.97,1279.0V1125.5h1.56V1279.0zM475.21,1279.0V1195.4h1.56V1279.0zM477.44,1279.0V1179.0h1.56V1279.0zM479.67,1279.0V1114.8h1.56V1279.0zM481.90,1279.0V1075.6h1.56V1279.0zM484.14,1279.0V1105.9h1.56V1279.0zM486.37,1279.0V1099.2h1.56V1279.0zM488.60,1279.0V1113.0h1.56V1279.0zM490.84,1279.0V1188.6h1.56V1279.0zM493.07,1279.0V1196.3h1.56V1279.0zM495.30,1279.0V1047.3h1.56V1279.0zM497.53,1279.0V1057.0h1.56V1279.0zM499.77,1279.0V1060.1h1.56V1279.0zM502.00,1279.0V1094.1h1.56V1279.0zM504.23,1279.0V1098.1h1.56V1279.0zM506.47,1279.0V1185.5h1.56V1279.0zM508.70,1279.0V1197.1h1.56V1279.0zM510.93,1279.0V1068.7h1.56V1279.0zM513.16,1279.0V1068.9h1.56V1279.0zM515.40,1279.0V1060.9h1.56V1279.0zM517.63,1279.0V1086.7h1.56V1279.0zM519.86,1279.0V1083.1h1.56V1279.0zM522.10,1279.0V1208.1h1.56V1279.0zM524.33,1279.0V1179.7h1.56V1279.0zM526.56,1279.0V1103.4h1.56V1279.0zM528.79,1279.0V1077.7h1.56V1279.0zM531.03,1279.0V1092.3h1.56V1279.0zM533.26,1279.0V1124.3h1.56V1279.0zM535.49,1279.0V1123.6h1.56V1279.0zM537.73,1279.0V1197.7h1.56V1279.0zM539.96,1279.0V1198.1h1.56V1279.0zM542.19,1279.0V1065.8h1.56V1279.0zM544.42,1279.0V1073.8h1.56V1279.0zM546.66,1279.0V1070.3h1.56V1279.0zM548.89,1279.0V1099.0h1.56V1279.0zM551.12,1279.0V1118.5h1.56V1279.0zM553.36,1279.0V1202.8h1.56V1279.0zM555.59,1279.0V1193.0h1.56V1279.0zM557.82,1279.0V1065.2h1.56V1279.0zM560.05,1279.0V1073.8h1.56V1279.0zM562.29,1279.0V1083.4h1.56V1279.0zM564.52,1279.0V1088.0h1.56V1279.0zM566.75,1279.0V1089.6h1.56V1279.0zM568.99,1279.0V1204.3h1.56V1279.0zM571.22,1279.0V1196.4h1.56V1279.0zM573.45,1279.0V1037.7h1.56V1279.0zM575.68,1279.0V1037.7h1.56V1279.0zM577.92,1279.0V1058.0h1.56V1279.0zM580.15,1279.0V1054.0h1.56V1279.0zM582.38,1279.0V1053.1h1.56V1279.0zM584.62,1279.0V1184.8h1.56V1279.0zM586.85,1279.0V1191.0h1.56V1279.0zM589.08,1279.0V1078.2h1.56V1279.0zM591.31,1279.0V1054.8h1.56V1279.0zM593.55,1279.0V1064.3h1.56V1279.0zM595.78,1279.0V1091.5h1.56V1279.0zM598.01,1279.0V1102.0h1.56V1279.0zM600.25,1279.0V1203.9h1.56V1279.0zM602.48,1279.0V1193.3h1.56V1279.0zM604.71,1279.0V1100.1h1.56V1279.0zM606.94,1279.0V1112.0h1.56V1279.0zM609.18,1279.0V1103.1h1.56V1279.0zM611.41,1279.0V1137.0h1.56V1279.0zM613.64,1279.0V1124.4h1.56V1279.0zM615.88,1279.0V1188.9h1.56V1279.0zM618.11,1279.0V1207.3h1.56V1279.0zM620.34,1279.0V1089.8h1.56V1279.0zM622.57,1279.0V1089.2h1.56V1279.0zM624.81,1279.0V1102.8h1.56V1279.0zM627.04,1279.0V1114.3h1.56V1279.0zM629.27,1279.0V1135.2h1.56V1279.0zM631.51,1279.0V1192.9h1.56V1279.0zM633.74,1279.0V1200.3h1.56V1279.0zM635.97,1279.0V1151.5h1.56V1279.0zM638.20,1279.0V1138.1h1.56V1279.0zM640.44,1279.0V1141.2h1.56V1279.0zM642.67,1279.0V1164.7h1.56V1279.0zM644.90,1279.0V1165.6h1.56V1279.0zM647.14,1279.0V1207.1h1.56V1279.0zM649.37,1279.0V1212.8h1.56V1279.0zM651.60,1279.0V1160.0h1.56V1279.0zM653.83,1279.0V1137.0h1.56V1279.0zM656.07,1279.0V1146.1h1.56V1279.0zM658.30,1279.0V1145.9h1.56V1279.0zM660.53,1279.0V1163.9h1.56V1279.0zM662.77,1279.0V1203.6h1.56V1279.0zM665.00,1279.0V1198.7h1.56V1279.0zM667.23,1279.0V1154.8h1.56V1279.0zM669.46,1279.0V1154.4h1.56V1279.0zM671.70,1279.0V1162.1h1.56V1279.0zM673.93,1279.0V1165.7h1.56V1279.0zM676.16,1279.0V1168.0h1.56V1279.0zM678.40,1279.0V1203.7h1.56V1279.0zM680.63,1279.0V1210.4h1.56V1279.0zM682.86,1279.0V1116.9h1.56V1279.0zM685.09,1279.0V1114.5h1.56V1279.0zM687.33,1279.0V1120.1h1.56V1279.0zM689.56,1279.0V1112.8h1.56V1279.0zM691.79,1279.0V1125.5h1.56V1279.0zM694.03,1279.0V1203.0h1.56V1279.0zM696.26,1279.0V1221.9h1.56V1279.0zM698.49,1279.0V1127.6h1.56V1279.0zM700.72,1279.0V1123.4h1.56V1279.0zM702.96,1279.0V1150.4h1.56V1279.0zM705.19,1279.0V1145.4h1.56V1279.0zM707.42,1279.0V1155.4h1.56V1279.0zM709.66,1279.0V1220.2h1.56V1279.0zM711.89,1279.0V1213.2h1.56V1279.0zM714.12,1279.0V1164.6h1.56V1279.0zM716.35,1279.0V1152.5h1.56V1279.0zM718.59,1279.0V1171.7h1.56V1279.0zM720.82,1279.0V1183.8h1.56V1279.0zM723.05,1279.0V1192.4h1.56V1279.0zM725.29,1279.0V1223.0h1.56V1279.0zM727.52,1279.0V1226.6h1.56V1279.0zM729.75,1279.0V1216.5h1.56V1279.0zM731.98,1279.0V1203.0h1.56V1279.0zM734.22,1279.0V1215.2h1.56V1279.0zM736.45,1279.0V1217.4h1.56V1279.0zM738.68,1279.0V1212.0h1.56V1279.0zM740.92,1279.0V1211.9h1.56V1279.0zM743.15,1279.0V1232.7h1.56V1279.0zM745.38,1279.0V1198.3h1.56V1279.0zM747.61,1279.0V1195.6h1.56V1279.0zM749.85,1279.0V1206.4h1.56V1279.0zM752.08,1279.0V1213.2h1.56V1279.0zM754.31,1279.0V1227.2h1.56V1279.0zM756.55,1279.0V1215.6h1.56V1279.0zM758.78,1279.0V1213.9h1.56V1279.0zM761.01,1279.0V1208.3h1.56V1279.0zM763.24,1279.0V1199.6h1.56V1279.0zM765.48,1279.0V1212.3h1.56V1279.0zM767.71,1279.0V1207.6h1.56V1279.0zM769.94,1279.0V1228.3h1.56V1279.0zM772.18,1279.0V1231.2h1.56V1279.0zM774.41,1279.0V1233.4h1.56V1279.0zM776.64,1279.0V1201.5h1.56V1279.0zM778.87,1279.0V1205.3h1.56V1279.0zM781.11,1279.0V1206.9h1.56V1279.0zM783.34,1279.0V1221.1h1.56V1279.0zM785.57,1279.0V1223.5h1.56V1279.0zM787.81,1279.0V1234.2h1.56V1279.0zM790.04,1279.0V1215.0h1.56V1279.0zM792.27,1279.0V1218.6h1.56V1279.0zM794.50,1279.0V1193.6h1.56V1279.0zM796.74,1279.0V1205.3h1.56V1279.0zM798.97,1279.0V1212.2h1.56V1279.0zM801.20,1279.0V1219.5h1.56V1279.0zM803.44,1279.0V1219.7h1.56V1279.0zM805.67,1279.0V1224.5h1.56V1279.0zM807.90,1279.0V1204.7h1.56V1279.0zM810.13,1279.0V1196.7h1.56V1279.0zM812.37,1279.0V1192.7h1.56V1279.0zM814.60,1279.0V1213.8h1.56V1279.0zM816.83,1279.0V1202.8h1.56V1279.0zM819.07,1279.0V1233.6h1.56V1279.0zM821.30,1279.0V1235.3h1.56V1279.0zM823.53,1279.0V1208.0h1.56V1279.0zM825.76,1279.0V1187.1h1.56V1279.0zM828.00,1279.0V1197.8h1.56V1279.0zM830.23,1279.0V1214.8h1.56V1279.0zM832.46,1279.0V1202.7h1.56V1279.0zM834.70,1279.0V1225.0h1.56V1279.0zM836.93,1279.0V1239.8h1.56V1279.0zM839.16,1279.0V1199.0h1.56V1279.0zM841.39,1279.0V1181.2h1.56V1279.0zM843.63,1279.0V1194.6h1.56V1279.0zM845.86,1279.0V1206.9h1.56V1279.0zM848.09,1279.0V1208.2h1.56V1279.0zM850.33,1279.0V1248.3h1.56V1279.0zM852.56,1279.0V1233.6h1.56V1279.0zM854.79,1279.0V1173.8h1.56V1279.0zM857.02,1279.0V1164.5h1.56V1279.0zM859.26,1279.0V1176.8h1.56V1279.0zM861.49,1279.0V1173.1h1.56V1279.0zM863.72,1279.0V1188.4h1.56V1279.0zM865.96,1279.0V1240.8h1.56V1279.0zM868.19,1279.0V1236.9h1.56V1279.0zM870.42,1279.0V1150.0h1.56V1279.0zM872.65,1279.0V1124.6h1.56V1279.0zM874.89,1279.0V1145.6h1.56V1279.0zM877.12,1279.0V1134.2h1.56V1279.0zM879.35,1279.0V1144.0h1.56V1279.0zM881.59,1279.0V1238.5h1.56V1279.0zM883.82,1279.0V1233.8h1.56V1279.0zM886.05,1279.0V1174.6h1.56V1279.0zM888.28,1279.0V1159.5h1.56V1279.0zM890.52,1279.0V1165.7h1.56V1279.0zM892.75,1279.0V1165.2h1.56V1279.0zM894.98,1279.0V1183.0h1.56V1279.0zM897.22,1279.0V1232.6h1.56V1279.0zM899.45,1279.0V1246.1h1.56V1279.0zM901.68,1279.0V1147.7h1.56V1279.0zM903.91,1279.0V1144.9h1.56V1279.0zM906.15,1279.0V1159.2h1.56V1279.0zM908.38,1279.0V1175.7h1.56V1279.0zM910.61,1279.0V1184.8h1.56V1279.0zM912.85,1279.0V1258.3h1.56V1279.0zM915.08,1279.0V1242.2h1.56V1279.0zM917.31,1279.0V1159.4h1.56V1279.0zM919.54,1279.0V1162.2h1.56V1279.0zM921.78,1279.0V1164.3h1.56V1279.0zM924.01,1279.0V1176.2h1.56V1279.0zM926.24,1279.0V1179.5h1.56V1279.0zM928.48,1279.0V1253.4h1.56V1279.0zM930.71,1279.0V1239.4h1.56V1279.0zM932.94,1279.0V1164.3h1.56V1279.0zM935.17,1279.0V1171.6h1.56V1279.0zM937.41,1279.0V1178.1h1.56V1279.0zM939.64,1279.0V1180.7h1.56V1279.0zM941.87,1279.0V1185.1h1.56V1279.0zM944.11,1279.0V1246.2h1.56V1279.0z" fill="#a9c093"/>
<path d="M132.13,1279.0V1227.2M134.36,1279.0V1221.7M136.59,1279.0V1149.4M138.83,1279.0V1135.6M141.06,1279.0V1144.5M143.29,1279.0V1153.8M145.52,1279.0V1153.4M147.76,1279.0V1221.3M149.99,1279.0V1223.5M152.22,1279.0V1060.5M154.46,1279.0V1056.0M156.69,1279.0V1081.1M158.92,1279.0V1074.1M161.15,1279.0V1084.6M163.39,1279.0V1238.0M165.62,1279.0V1233.2M167.85,1279.0V1034.3M170.09,1279.0V1040.2M172.32,1279.0V1054.5M174.55,1279.0V1048.9M176.78,1279.0V1052.8M179.02,1279.0V1233.8M181.25,1279.0V1239.3M183.48,1279.0V1047.9M185.72,1279.0V1038.0M187.95,1279.0V1061.5M190.18,1279.0V1079.0M192.41,1279.0V1086.0M194.65,1279.0V1223.8M196.88,1279.0V1232.6M199.11,1279.0V1106.4M201.35,1279.0V1095.0M203.58,1279.0V1113.3M205.81,1279.0V1126.9M208.04,1279.0V1133.2M210.28,1279.0V1206.7M212.51,1279.0V1208.6M214.74,1279.0V1092.8M216.98,1279.0V1085.0M219.21,1279.0V1092.6M221.44,1279.0V1110.8M223.67,1279.0V1113.1M225.91,1279.0V1201.9M228.14,1279.0V1197.1M230.37,1279.0V1127.7M232.61,1279.0V1111.0M234.84,1279.0V1126.5M237.07,1279.0V1135.1M239.30,1279.0V1134.9M241.54,1279.0V1196.6M243.77,1279.0V1212.4M246.00,1279.0V1137.7M248.24,1279.0V1137.6M250.47,1279.0V1138.6M252.70,1279.0V1154.3M254.93,1279.0V1151.7M257.17,1279.0V1200.7M259.40,1279.0V1215.0M261.63,1279.0V1143.8M263.87,1279.0V1142.0M266.10,1279.0V1157.5M268.33,1279.0V1152.3M270.56,1279.0V1153.7M272.80,1279.0V1194.4M275.03,1279.0V1190.3M277.26,1279.0V1122.9M279.50,1279.0V1121.0M281.73,1279.0V1128.9M283.96,1279.0V1133.4M286.19,1279.0V1138.9M288.43,1279.0V1204.6M290.66,1279.0V1202.9M292.89,1279.0V1147.2M295.13,1279.0V1131.0M297.36,1279.0V1132.9M299.59,1279.0V1147.1M301.82,1279.0V1145.5M304.06,1279.0V1193.3M306.29,1279.0V1190.7M308.52,1279.0V1148.6M310.76,1279.0V1141.2M312.99,1279.0V1138.3M315.22,1279.0V1151.0M317.45,1279.0V1151.0M319.69,1279.0V1183.2M321.92,1279.0V1175.6M324.15,1279.0V1126.4M326.39,1279.0V1106.7M328.62,1279.0V1119.0M330.85,1279.0V1127.1M333.08,1279.0V1130.1M335.32,1279.0V1186.6M337.55,1279.0V1182.9M339.78,1279.0V1148.5M342.02,1279.0V1144.2M344.25,1279.0V1146.3M346.48,1279.0V1160.0M348.71,1279.0V1175.9M350.95,1279.0V1170.2M353.18,1279.0V1183.2M355.41,1279.0V1195.2M357.65,1279.0V1187.0M359.88,1279.0V1195.6M362.11,1279.0V1197.0M364.34,1279.0V1210.4M366.58,1279.0V1175.5M368.81,1279.0V1183.8M371.04,1279.0V1189.8M373.28,1279.0V1176.0M375.51,1279.0V1178.4M377.74,1279.0V1208.3M379.97,1279.0V1199.9M382.21,1279.0V1176.7M384.44,1279.0V1173.0M386.67,1279.0V1190.2M388.91,1279.0V1192.1M391.14,1279.0V1201.4M393.37,1279.0V1193.8M395.60,1279.0V1214.0M397.84,1279.0V1174.3M400.07,1279.0V1172.6M402.30,1279.0V1195.5M404.54,1279.0V1190.9M406.77,1279.0V1195.9M409.00,1279.0V1198.7M411.23,1279.0V1214.0M413.47,1279.0V1182.4M415.70,1279.0V1176.6M417.93,1279.0V1147.9M420.17,1279.0V1145.0M422.40,1279.0V1151.4M424.63,1279.0V1154.5M426.86,1279.0V1166.8M429.10,1279.0V1168.8M431.33,1279.0V1171.5M433.56,1279.0V1086.8M435.80,1279.0V1091.0M438.03,1279.0V1100.7M440.26,1279.0V1116.6M442.49,1279.0V1118.1M444.73,1279.0V1172.6M446.96,1279.0V1174.1M449.19,1279.0V1127.4M451.43,1279.0V1119.4M453.66,1279.0V1131.5M455.89,1279.0V1133.9M458.12,1279.0V1130.8M460.36,1279.0V1184.9M462.59,1279.0V1187.2M464.82,1279.0V1105.8M467.06,1279.0V1100.0M469.29,1279.0V1104.4M471.52,1279.0V1114.8M473.75,1279.0V1115.0M475.99,1279.0V1180.5M478.22,1279.0V1166.1M480.45,1279.0V1095.1M482.69,1279.0V1064.0M484.92,1279.0V1084.7M487.15,1279.0V1087.3M489.38,1279.0V1102.0M491.62,1279.0V1170.8M493.85,1279.0V1181.3M496.08,1279.0V1037.7M498.32,1279.0V1040.1M500.55,1279.0V1051.0M502.78,1279.0V1075.1M505.01,1279.0V1080.4M507.25,1279.0V1166.5M509.48,1279.0V1180.3M511.71,1279.0V1055.7M513.95,1279.0V1055.3M516.18,1279.0V1047.3M518.41,1279.0V1066.3M520.64,1279.0V1073.9M522.88,1279.0V1187.7M525.11,1279.0V1171.3M527.34,1279.0V1092.5M529.58,1279.0V1066.0M531.81,1279.0V1071.7M534.04,1279.0V1109.2M536.27,1279.0V1110.3M538.51,1279.0V1177.4M540.74,1279.0V1186.8M542.97,1279.0V1051.3M545.21,1279.0V1058.3M547.44,1279.0V1051.7M549.67,1279.0V1080.4M551.90,1279.0V1101.4M554.14,1279.0V1190.0M556.37,1279.0V1180.5M558.60,1279.0V1055.0M560.84,1279.0V1054.0M563.07,1279.0V1066.2M565.30,1279.0V1069.6M567.53,1279.0V1079.2M569.77,1279.0V1190.2M572.00,1279.0V1177.5M574.23,1279.0V1021.6M576.47,1279.0V1027.9M578.70,1279.0V1043.5M580.93,1279.0V1033.6M583.16,1279.0V1041.8M585.40,1279.0V1174.1M587.63,1279.0V1178.8M589.86,1279.0V1060.4M592.10,1279.0V1035.0M594.33,1279.0V1054.1M596.56,1279.0V1081.3M598.79,1279.0V1090.5M601.03,1279.0V1191.3M603.26,1279.0V1177.9M605.49,1279.0V1089.9M607.73,1279.0V1099.4M609.96,1279.0V1092.5M612.19,1279.0V1115.3M614.42,1279.0V1106.2M616.66,1279.0V1179.5M618.89,1279.0V1185.9M621.12,1279.0V1080.3M623.36,1279.0V1075.8M625.59,1279.0V1081.0M627.82,1279.0V1095.1M630.05,1279.0V1116.9M632.29,1279.0V1178.8M634.52,1279.0V1189.5M636.75,1279.0V1134.6M638.99,1279.0V1128.6M641.22,1279.0V1130.3M643.45,1279.0V1151.3M645.68,1279.0V1157.2M647.92,1279.0V1193.6M650.15,1279.0V1193.7M652.38,1279.0V1142.3M654.62,1279.0V1122.0M656.85,1279.0V1129.2M659.08,1279.0V1131.4M661.31,1279.0V1153.9M663.55,1279.0V1187.1M665.78,1279.0V1185.0M668.01,1279.0V1136.4M670.25,1279.0V1133.6M672.48,1279.0V1148.1M674.71,1279.0V1149.6M676.94,1279.0V1149.5M679.18,1279.0V1189.8M681.41,1279.0V1199.2M683.64,1279.0V1098.8M685.88,1279.0V1094.2M688.11,1279.0V1101.2M690.34,1279.0V1095.0M692.57,1279.0V1105.6M694.81,1279.0V1185.5M697.04,1279.0V1204.9M699.27,1279.0V1113.2M701.51,1279.0V1111.0M703.74,1279.0V1133.6M705.97,1279.0V1136.0M708.20,1279.0V1141.5M710.44,1279.0V1201.2M712.67,1279.0V1195.2M714.90,1279.0V1147.7M717.14,1279.0V1141.0M719.37,1279.0V1157.8M721.60,1279.0V1169.4M723.83,1279.0V1175.7M726.07,1279.0V1209.2M728.30,1279.0V1209.1M730.53,1279.0V1195.4M732.77,1279.0V1192.5M735.00,1279.0V1198.0M737.23,1279.0V1198.5M739.46,1279.0V1198.6M741.70,1279.0V1197.1M743.93,1279.0V1211.1M746.16,1279.0V1189.8M748.40,1279.0V1180.0M750.63,1279.0V1196.2M752.86,1279.0V1194.3M755.09,1279.0V1206.1M757.33,1279.0V1200.4M759.56,1279.0V1204.4M761.79,1279.0V1192.3M764.03,1279.0V1184.0M766.26,1279.0V1194.2M768.49,1279.0V1192.4M770.72,1279.0V1211.4M772.96,1279.0V1211.6M775.19,1279.0V1218.1M777.42,1279.0V1187.7M779.66,1279.0V1184.0M781.89,1279.0V1196.0M784.12,1279.0V1203.5M786.35,1279.0V1210.0M788.59,1279.0V1215.5M790.82,1279.0V1205.3M793.05,1279.0V1196.9M795.29,1279.0V1180.6M797.52,1279.0V1196.6M799.75,1279.0V1200.4M801.98,1279.0V1205.9M804.22,1279.0V1211.5M806.45,1279.0V1210.6M808.68,1279.0V1190.8M810.92,1279.0V1179.0M813.15,1279.0V1179.7M815.38,1279.0V1202.1M817.61,1279.0V1191.6M819.85,1279.0V1215.2M822.08,1279.0V1214.2M824.31,1279.0V1192.6M826.55,1279.0V1176.0M828.78,1279.0V1178.6M831.01,1279.0V1201.4M833.24,1279.0V1191.7M835.48,1279.0V1215.2M837.71,1279.0V1220.9M839.94,1279.0V1179.7M842.18,1279.0V1164.3M844.41,1279.0V1180.1M846.64,1279.0V1191.1M848.87,1279.0V1197.0M851.11,1279.0V1226.9M853.34,1279.0V1220.7M855.57,1279.0V1156.8M857.81,1279.0V1145.0M860.04,1279.0V1157.4M862.27,1279.0V1158.6M864.50,1279.0V1176.2M866.74,1279.0V1225.1M868.97,1279.0V1227.1M871.20,1279.0V1130.4M873.44,1279.0V1111.6M875.67,1279.0V1125.7M877.90,1279.0V1122.4M880.13,1279.0V1130.8M882.37,1279.0V1227.0M884.60,1279.0V1219.8M886.83,1279.0V1164.0M889.07,1279.0V1151.4M891.30,1279.0V1147.6M893.53,1279.0V1153.2M895.76,1279.0V1171.6M898.00,1279.0V1220.4M900.23,1279.0V1231.4M902.46,1279.0V1133.7M904.70,1279.0V1128.0M906.93,1279.0V1141.9M909.16,1279.0V1162.6M911.39,1279.0V1163.8M913.63,1279.0V1238.4M915.86,1279.0V1233.4M918.09,1279.0V1139.8M920.33,1279.0V1141.5M922.56,1279.0V1145.3M924.79,1279.0V1166.3M927.02,1279.0V1159.9M929.26,1279.0V1236.5M931.49,1279.0V1231.2M933.72,1279.0V1156.2M935.96,1279.0V1150.3M938.19,1279.0V1160.9M940.42,1279.0V1169.2M942.65,1279.0V1175.7M944.89,1279.0V1236.2" stroke="#2c5316" stroke-width="1.5" stroke-dasharray="2.6 1.8" fill="none"/>
<path d="M131.23,1279.0V1244.8h1.56V1279.0zM133.47,1279.0V1218.3h1.56V1279.0zM135.70,1279.0V1216.3h1.56V1279.0zM137.93,1279.0V1225.3h1.56V1279.0zM140.17,1279.0V1216.9h1.56V1279.0zM142.40,1279.0V1221.9h1.56V1279.0zM144.63,1279.0V1222.1h1.56V1279.0zM146.86,1279.0V1218.0h1.56V1279.0zM149.10,1279.0V1233.1h1.56V1279.0zM151.33,1279.0V1242.7h1.56V1279.0zM153.56,1279.0V1219.7h1.56V1279.0zM155.80,1279.0V1229.6h1.56V1279.0zM158.03,1279.0V1218.3h1.56V1279.0zM160.26,1279.0V1218.3h1.56V1279.0zM162.49,1279.0V1218.0h1.56V1279.0zM164.73,1279.0V1221.8h1.56V1279.0zM166.96,1279.0V1222.5h1.56V1279.0zM169.19,1279.0V1221.2h1.56V1279.0zM171.43,1279.0V1216.9h1.56V1279.0zM173.66,1279.0V1220.1h1.56V1279.0zM175.89,1279.0V1220.9h1.56V1279.0zM178.12,1279.0V1219.5h1.56V1279.0zM180.36,1279.0V1219.6h1.56V1279.0zM182.59,1279.0V1247.4h1.56V1279.0zM184.82,1279.0V1221.8h1.56V1279.0zM187.06,1279.0V1220.9h1.56V1279.0zM189.29,1279.0V1217.9h1.56V1279.0zM191.52,1279.0V1249.9h1.56V1279.0zM193.75,1279.0V1219.3h1.56V1279.0zM195.99,1279.0V1231.1h1.56V1279.0zM198.22,1279.0V1206.3h1.56V1279.0zM200.45,1279.0V1201.2h1.56V1279.0zM202.69,1279.0V1204.0h1.56V1279.0zM204.92,1279.0V1211.9h1.56V1279.0zM207.15,1279.0V1200.9h1.56V1279.0zM209.38,1279.0V1217.6h1.56V1279.0zM211.62,1279.0V1202.2h1.56V1279.0zM213.85,1279.0V1199.7h1.56V1279.0zM216.08,1279.0V1233.0h1.56V1279.0zM218.32,1279.0V1199.9h1.56V1279.0zM220.55,1279.0V1195.3h1.56V1279.0zM222.78,1279.0V1202.6h1.56V1279.0zM225.01,1279.0V1211.2h1.56V1279.0zM227.25,1279.0V1203.3h1.56V1279.0zM229.48,1279.0V1191.1h1.56V1279.0zM231.71,1279.0V1191.7h1.56V1279.0zM233.95,1279.0V1192.9h1.56V1279.0zM236.18,1279.0V1196.5h1.56V1279.0zM238.41,1279.0V1191.0h1.56V1279.0zM240.64,1279.0V1191.9h1.56V1279.0zM242.88,1279.0V1197.0h1.56V1279.0zM245.11,1279.0V1191.0h1.56V1279.0zM247.34,1279.0V1214.4h1.56V1279.0zM249.58,1279.0V1194.0h1.56V1279.0zM251.81,1279.0V1190.7h1.56V1279.0zM254.04,1279.0V1194.2h1.56V1279.0zM256.27,1279.0V1194.3h1.56V1279.0zM258.51,1279.0V1194.1h1.56V1279.0zM260.74,1279.0V1190.5h1.56V1279.0zM262.97,1279.0V1189.2h1.56V1279.0zM265.21,1279.0V1189.0h1.56V1279.0zM267.44,1279.0V1187.4h1.56V1279.0zM269.67,1279.0V1188.6h1.56V1279.0zM271.90,1279.0V1183.8h1.56V1279.0zM274.14,1279.0V1209.8h1.56V1279.0zM276.37,1279.0V1184.4h1.56V1279.0zM278.60,1279.0V1181.6h1.56V1279.0zM280.84,1279.0V1185.3h1.56V1279.0zM283.07,1279.0V1181.2h1.56V1279.0zM285.30,1279.0V1184.5h1.56V1279.0zM287.53,1279.0V1181.7h1.56V1279.0zM289.77,1279.0V1179.1h1.56V1279.0zM292.00,1279.0V1213.6h1.56V1279.0zM294.23,1279.0V1208.6h1.56V1279.0zM296.47,1279.0V1173.5h1.56V1279.0zM298.70,1279.0V1175.7h1.56V1279.0zM300.93,1279.0V1172.0h1.56V1279.0zM303.16,1279.0V1173.9h1.56V1279.0zM305.40,1279.0V1183.4h1.56V1279.0zM307.63,1279.0V1171.9h1.56V1279.0zM309.86,1279.0V1169.1h1.56V1279.0zM312.10,1279.0V1170.9h1.56V1279.0zM314.33,1279.0V1170.5h1.56V1279.0zM316.56,1279.0V1171.0h1.56V1279.0zM318.79,1279.0V1189.1h1.56V1279.0zM321.03,1279.0V1201.5h1.56V1279.0zM323.26,1279.0V1171.7h1.56V1279.0zM325.49,1279.0V1170.3h1.56V1279.0zM327.73,1279.0V1167.7h1.56V1279.0zM329.96,1279.0V1168.4h1.56V1279.0zM332.19,1279.0V1169.7h1.56V1279.0zM334.42,1279.0V1168.6h1.56V1279.0zM336.66,1279.0V1168.5h1.56V1279.0zM338.89,1279.0V1168.2h1.56V1279.0zM341.12,1279.0V1169.1h1.56V1279.0zM343.36,1279.0V1166.4h1.56V1279.0zM345.59,1279.0V1169.8h1.56V1279.0zM347.82,1279.0V1186.1h1.56V1279.0zM350.05,1279.0V1165.0h1.56V1279.0zM352.29,1279.0V1169.9h1.56V1279.0zM354.52,1279.0V1168.4h1.56V1279.0zM356.75,1279.0V1170.1h1.56V1279.0zM358.99,1279.0V1166.6h1.56V1279.0zM361.22,1279.0V1169.2h1.56V1279.0zM363.45,1279.0V1167.2h1.56V1279.0zM365.68,1279.0V1181.1h1.56V1279.0zM367.92,1279.0V1189.3h1.56V1279.0zM370.15,1279.0V1181.4h1.56V1279.0zM372.38,1279.0V1164.1h1.56V1279.0zM374.62,1279.0V1169.5h1.56V1279.0zM376.85,1279.0V1163.8h1.56V1279.0zM379.08,1279.0V1164.3h1.56V1279.0zM381.31,1279.0V1168.3h1.56V1279.0zM383.55,1279.0V1201.5h1.56V1279.0zM385.78,1279.0V1163.8h1.56V1279.0zM388.01,1279.0V1165.7h1.56V1279.0zM390.25,1279.0V1166.9h1.56V1279.0zM392.48,1279.0V1199.0h1.56V1279.0zM394.71,1279.0V1165.6h1.56V1279.0zM396.94,1279.0V1168.4h1.56V1279.0zM399.18,1279.0V1187.2h1.56V1279.0zM401.41,1279.0V1174.3h1.56V1279.0zM403.64,1279.0V1179.5h1.56V1279.0zM405.88,1279.0V1164.2h1.56V1279.0zM408.11,1279.0V1180.5h1.56V1279.0zM410.34,1279.0V1162.4h1.56V1279.0zM412.57,1279.0V1163.4h1.56V1279.0zM414.81,1279.0V1162.8h1.56V1279.0zM417.04,1279.0V1165.0h1.56V1279.0zM419.27,1279.0V1165.0h1.56V1279.0zM421.51,1279.0V1164.0h1.56V1279.0zM423.74,1279.0V1165.8h1.56V1279.0zM425.97,1279.0V1162.3h1.56V1279.0zM428.20,1279.0V1193.8h1.56V1279.0zM430.44,1279.0V1170.8h1.56V1279.0zM432.67,1279.0V1165.9h1.56V1279.0zM434.90,1279.0V1163.6h1.56V1279.0zM437.14,1279.0V1183.4h1.56V1279.0zM439.37,1279.0V1167.6h1.56V1279.0zM441.60,1279.0V1167.6h1.56V1279.0zM443.83,1279.0V1161.8h1.56V1279.0zM446.07,1279.0V1164.7h1.56V1279.0zM448.30,1279.0V1161.7h1.56V1279.0zM450.53,1279.0V1181.7h1.56V1279.0zM452.77,1279.0V1178.3h1.56V1279.0zM455.00,1279.0V1164.8h1.56V1279.0zM457.23,1279.0V1165.9h1.56V1279.0zM459.46,1279.0V1163.6h1.56V1279.0zM461.70,1279.0V1192.9h1.56V1279.0zM463.93,1279.0V1196.8h1.56V1279.0zM466.16,1279.0V1165.9h1.56V1279.0zM468.40,1279.0V1185.8h1.56V1279.0zM470.63,1279.0V1166.3h1.56V1279.0zM472.86,1279.0V1166.8h1.56V1279.0zM475.09,1279.0V1162.8h1.56V1279.0zM477.33,1279.0V1180.0h1.56V1279.0zM479.56,1279.0V1164.7h1.56V1279.0zM481.79,1279.0V1165.5h1.56V1279.0zM484.03,1279.0V1195.3h1.56V1279.0zM486.26,1279.0V1164.5h1.56V1279.0zM488.49,1279.0V1193.1h1.56V1279.0zM490.72,1279.0V1176.6h1.56V1279.0zM492.96,1279.0V1193.2h1.56V1279.0zM495.19,1279.0V1163.5h1.56V1279.0zM497.42,1279.0V1165.8h1.56V1279.0zM499.66,1279.0V1161.7h1.56V1279.0zM501.89,1279.0V1165.6h1.56V1279.0zM504.12,1279.0V1161.2h1.56V1279.0zM506.35,1279.0V1165.2h1.56V1279.0zM508.59,1279.0V1162.8h1.56V1279.0zM510.82,1279.0V1163.9h1.56V1279.0zM513.05,1279.0V1162.3h1.56V1279.0zM515.29,1279.0V1161.1h1.56V1279.0zM517.52,1279.0V1166.8h1.56V1279.0zM519.75,1279.0V1162.8h1.56V1279.0zM521.98,1279.0V1189.2h1.56V1279.0zM524.22,1279.0V1169.9h1.56V1279.0zM526.45,1279.0V1168.6h1.56V1279.0zM528.68,1279.0V1168.3h1.56V1279.0zM530.92,1279.0V1167.0h1.56V1279.0zM533.15,1279.0V1169.4h1.56V1279.0zM535.38,1279.0V1184.6h1.56V1279.0zM537.61,1279.0V1166.4h1.56V1279.0zM539.85,1279.0V1167.0h1.56V1279.0zM542.08,1279.0V1171.5h1.56V1279.0zM544.31,1279.0V1168.3h1.56V1279.0zM546.55,1279.0V1168.0h1.56V1279.0zM548.78,1279.0V1166.0h1.56V1279.0zM551.01,1279.0V1167.2h1.56V1279.0zM553.24,1279.0V1167.0h1.56V1279.0zM555.48,1279.0V1184.3h1.56V1279.0zM557.71,1279.0V1170.0h1.56V1279.0zM559.94,1279.0V1170.7h1.56V1279.0zM562.18,1279.0V1165.6h1.56V1279.0zM564.41,1279.0V1170.0h1.56V1279.0zM566.64,1279.0V1165.9h1.56V1279.0zM568.87,1279.0V1188.3h1.56V1279.0zM571.11,1279.0V1170.4h1.56V1279.0zM573.34,1279.0V1170.1h1.56V1279.0zM575.57,1279.0V1168.7h1.56V1279.0zM577.81,1279.0V1179.8h1.56V1279.0zM580.04,1279.0V1168.0h1.56V1279.0zM582.27,1279.0V1169.6h1.56V1279.0zM584.50,1279.0V1176.2h1.56V1279.0zM586.74,1279.0V1181.6h1.56V1279.0zM588.97,1279.0V1172.7h1.56V1279.0zM591.20,1279.0V1170.1h1.56V1279.0zM593.44,1279.0V1169.8h1.56V1279.0zM595.67,1279.0V1173.7h1.56V1279.0zM597.90,1279.0V1171.9h1.56V1279.0zM600.13,1279.0V1183.8h1.56V1279.0zM602.37,1279.0V1171.2h1.56V1279.0zM604.60,1279.0V1173.9h1.56V1279.0zM606.83,1279.0V1199.7h1.56V1279.0zM609.07,1279.0V1172.6h1.56V1279.0zM611.30,1279.0V1174.9h1.56V1279.0zM613.53,1279.0V1175.5h1.56V1279.0zM615.76,1279.0V1181.4h1.56V1279.0zM618.00,1279.0V1176.0h1.56V1279.0zM620.23,1279.0V1175.3h1.56V1279.0zM622.46,1279.0V1171.3h1.56V1279.0zM624.70,1279.0V1176.9h1.56V1279.0zM626.93,1279.0V1172.5h1.56V1279.0zM629.16,1279.0V1176.2h1.56V1279.0zM631.39,1279.0V1196.7h1.56V1279.0zM633.63,1279.0V1174.1h1.56V1279.0zM635.86,1279.0V1189.6h1.56V1279.0zM638.09,1279.0V1177.2h1.56V1279.0zM640.33,1279.0V1175.1h1.56V1279.0zM642.56,1279.0V1178.3h1.56V1279.0zM644.79,1279.0V1197.8h1.56V1279.0zM647.02,1279.0V1176.3h1.56V1279.0zM649.26,1279.0V1176.4h1.56V1279.0zM651.49,1279.0V1177.8h1.56V1279.0zM653.72,1279.0V1209.5h1.56V1279.0zM655.96,1279.0V1177.1h1.56V1279.0zM658.19,1279.0V1181.0h1.56V1279.0zM660.42,1279.0V1180.9h1.56V1279.0zM662.65,1279.0V1179.6h1.56V1279.0zM664.89,1279.0V1179.4h1.56V1279.0zM667.12,1279.0V1178.1h1.56V1279.0zM669.35,1279.0V1217.6h1.56V1279.0zM671.59,1279.0V1185.8h1.56V1279.0zM673.82,1279.0V1183.3h1.56V1279.0zM676.05,1279.0V1183.8h1.56V1279.0zM678.28,1279.0V1217.3h1.56V1279.0zM680.52,1279.0V1208.1h1.56V1279.0zM682.75,1279.0V1181.1h1.56V1279.0zM684.98,1279.0V1195.1h1.56V1279.0zM687.22,1279.0V1180.3h1.56V1279.0zM689.45,1279.0V1198.3h1.56V1279.0zM691.68,1279.0V1182.7h1.56V1279.0zM693.91,1279.0V1182.6h1.56V1279.0zM696.15,1279.0V1199.4h1.56V1279.0zM698.38,1279.0V1201.3h1.56V1279.0zM700.61,1279.0V1181.7h1.56V1279.0zM702.85,1279.0V1220.2h1.56V1279.0zM705.08,1279.0V1187.9h1.56V1279.0zM707.31,1279.0V1188.9h1.56V1279.0zM709.54,1279.0V1188.0h1.56V1279.0zM711.78,1279.0V1184.2h1.56V1279.0zM714.01,1279.0V1188.6h1.56V1279.0zM716.24,1279.0V1199.5h1.56V1279.0zM718.48,1279.0V1191.6h1.56V1279.0zM720.71,1279.0V1189.0h1.56V1279.0zM722.94,1279.0V1188.1h1.56V1279.0zM725.17,1279.0V1192.5h1.56V1279.0zM727.41,1279.0V1190.1h1.56V1279.0zM729.64,1279.0V1193.4h1.56V1279.0zM731.87,1279.0V1221.6h1.56V1279.0zM734.11,1279.0V1197.0h1.56V1279.0zM736.34,1279.0V1196.2h1.56V1279.0zM738.57,1279.0V1192.5h1.56V1279.0zM740.80,1279.0V1214.7h1.56V1279.0zM743.04,1279.0V1192.9h1.56V1279.0zM745.27,1279.0V1195.8h1.56V1279.0zM747.50,1279.0V1196.0h1.56V1279.0zM749.74,1279.0V1194.0h1.56V1279.0zM751.97,1279.0V1196.9h1.56V1279.0zM754.20,1279.0V1194.2h1.56V1279.0zM756.43,1279.0V1196.5h1.56V1279.0zM758.67,1279.0V1199.2h1.56V1279.0zM760.90,1279.0V1198.4h1.56V1279.0zM763.13,1279.0V1194.4h1.56V1279.0zM765.37,1279.0V1199.1h1.56V1279.0zM767.60,1279.0V1210.6h1.56V1279.0zM769.83,1279.0V1234.6h1.56V1279.0zM772.06,1279.0V1197.0h1.56V1279.0zM774.30,1279.0V1196.6h1.56V1279.0zM776.53,1279.0V1195.9h1.56V1279.0zM778.76,1279.0V1196.9h1.56V1279.0zM781.00,1279.0V1209.0h1.56V1279.0zM783.23,1279.0V1200.0h1.56V1279.0zM785.46,1279.0V1213.8h1.56V1279.0zM787.69,1279.0V1213.5h1.56V1279.0zM789.93,1279.0V1200.1h1.56V1279.0zM792.16,1279.0V1216.9h1.56V1279.0zM794.39,1279.0V1197.9h1.56V1279.0zM796.63,1279.0V1200.1h1.56V1279.0zM798.86,1279.0V1203.6h1.56V1279.0zM801.09,1279.0V1200.3h1.56V1279.0zM803.32,1279.0V1204.3h1.56V1279.0zM805.56,1279.0V1230.1h1.56V1279.0zM807.79,1279.0V1236.4h1.56V1279.0zM810.02,1279.0V1201.9h1.56V1279.0zM812.26,1279.0V1201.3h1.56V1279.0zM814.49,1279.0V1205.1h1.56V1279.0zM816.72,1279.0V1229.9h1.56V1279.0zM818.95,1279.0V1203.9h1.56V1279.0zM821.19,1279.0V1209.5h1.56V1279.0zM823.42,1279.0V1209.6h1.56V1279.0zM825.65,1279.0V1216.1h1.56V1279.0zM827.89,1279.0V1209.5h1.56V1279.0zM830.12,1279.0V1209.5h1.56V1279.0zM832.35,1279.0V1212.4h1.56V1279.0zM834.58,1279.0V1209.0h1.56V1279.0zM836.82,1279.0V1213.0h1.56V1279.0zM839.05,1279.0V1228.3h1.56V1279.0zM841.28,1279.0V1209.3h1.56V1279.0zM843.52,1279.0V1214.2h1.56V1279.0zM845.75,1279.0V1213.7h1.56V1279.0zM847.98,1279.0V1210.1h1.56V1279.0zM850.21,1279.0V1213.4h1.56V1279.0zM852.45,1279.0V1213.4h1.56V1279.0zM854.68,1279.0V1212.9h1.56V1279.0zM856.91,1279.0V1238.2h1.56V1279.0zM859.15,1279.0V1215.4h1.56V1279.0zM861.38,1279.0V1212.1h1.56V1279.0zM863.61,1279.0V1221.8h1.56V1279.0zM865.84,1279.0V1233.1h1.56V1279.0zM868.08,1279.0V1240.2h1.56V1279.0zM870.31,1279.0V1216.7h1.56V1279.0zM872.54,1279.0V1235.7h1.56V1279.0zM874.78,1279.0V1212.9h1.56V1279.0zM877.01,1279.0V1216.5h1.56V1279.0zM879.24,1279.0V1252.5h1.56V1279.0zM881.47,1279.0V1217.7h1.56V1279.0zM883.71,1279.0V1217.8h1.56V1279.0zM885.94,1279.0V1216.8h1.56V1279.0zM888.17,1279.0V1213.9h1.56V1279.0zM890.41,1279.0V1235.9h1.56V1279.0zM892.64,1279.0V1227.5h1.56V1279.0zM894.87,1279.0V1212.6h1.56V1279.0zM897.10,1279.0V1251.1h1.56V1279.0zM899.34,1279.0V1213.4h1.56V1279.0zM901.57,1279.0V1237.0h1.56V1279.0zM903.80,1279.0V1217.7h1.56V1279.0zM906.04,1279.0V1217.8h1.56V1279.0zM908.27,1279.0V1216.3h1.56V1279.0zM910.50,1279.0V1214.1h1.56V1279.0zM912.73,1279.0V1214.7h1.56V1279.0zM914.97,1279.0V1213.7h1.56V1279.0zM917.20,1279.0V1247.3h1.56V1279.0zM919.43,1279.0V1218.6h1.56V1279.0zM921.67,1279.0V1214.6h1.56V1279.0zM923.90,1279.0V1224.0h1.56V1279.0zM926.13,1279.0V1215.8h1.56V1279.0zM928.36,1279.0V1226.7h1.56V1279.0zM930.60,1279.0V1218.9h1.56V1279.0zM932.83,1279.0V1231.4h1.56V1279.0zM935.06,1279.0V1216.4h1.56V1279.0zM937.30,1279.0V1215.8h1.56V1279.0zM939.53,1279.0V1214.4h1.56V1279.0zM941.76,1279.0V1241.3h1.56V1279.0zM943.99,1279.0V1215.4h1.56V1279.0z" fill="#f6b4b4" fill-opacity="0.85"/>
<path d="M131.68,1279.0V1244.8M133.91,1279.0V1218.3M136.15,1279.0V1216.3M138.38,1279.0V1225.3M140.61,1279.0V1216.9M142.85,1279.0V1221.9M145.08,1279.0V1222.1M147.31,1279.0V1218.0M149.54,1279.0V1233.1M151.78,1279.0V1242.7M154.01,1279.0V1219.7M156.24,1279.0V1229.6M158.48,1279.0V1218.3M160.71,1279.0V1218.3M162.94,1279.0V1218.0M165.17,1279.0V1221.8M167.41,1279.0V1222.5M169.64,1279.0V1221.2M171.87,1279.0V1216.9M174.11,1279.0V1220.1M176.34,1279.0V1220.9M178.57,1279.0V1219.5M180.80,1279.0V1219.6M183.04,1279.0V1247.4M185.27,1279.0V1221.8M187.50,1279.0V1220.9M189.74,1279.0V1217.9M191.97,1279.0V1249.9M194.20,1279.0V1219.3M196.43,1279.0V1231.1M198.67,1279.0V1206.3M200.90,1279.0V1201.2M203.13,1279.0V1204.0M205.37,1279.0V1211.9M207.60,1279.0V1200.9M209.83,1279.0V1217.6M212.06,1279.0V1202.2M214.30,1279.0V1199.7M216.53,1279.0V1233.0M218.76,1279.0V1199.9M221.00,1279.0V1195.3M223.23,1279.0V1202.6M225.46,1279.0V1211.2M227.69,1279.0V1203.3M229.93,1279.0V1191.1M232.16,1279.0V1191.7M234.39,1279.0V1192.9M236.63,1279.0V1196.5M238.86,1279.0V1191.0M241.09,1279.0V1191.9M243.32,1279.0V1197.0M245.56,1279.0V1191.0M247.79,1279.0V1214.4M250.02,1279.0V1194.0M252.26,1279.0V1190.7M254.49,1279.0V1194.2M256.72,1279.0V1194.3M258.95,1279.0V1194.1M261.19,1279.0V1190.5M263.42,1279.0V1189.2M265.65,1279.0V1189.0M267.89,1279.0V1187.4M270.12,1279.0V1188.6M272.35,1279.0V1183.8M274.58,1279.0V1209.8M276.82,1279.0V1184.4M279.05,1279.0V1181.6M281.28,1279.0V1185.3M283.52,1279.0V1181.2M285.75,1279.0V1184.5M287.98,1279.0V1181.7M290.21,1279.0V1179.1M292.45,1279.0V1213.6M294.68,1279.0V1208.6M296.91,1279.0V1173.5M299.15,1279.0V1175.7M301.38,1279.0V1172.0M303.61,1279.0V1173.9M305.84,1279.0V1183.4M308.08,1279.0V1171.9M310.31,1279.0V1169.1M312.54,1279.0V1170.9M314.78,1279.0V1170.5M317.01,1279.0V1171.0M319.24,1279.0V1189.1M321.47,1279.0V1201.5M323.71,1279.0V1171.7M325.94,1279.0V1170.3M328.17,1279.0V1167.7M330.41,1279.0V1168.4M332.64,1279.0V1169.7M334.87,1279.0V1168.6M337.10,1279.0V1168.5M339.34,1279.0V1168.2M341.57,1279.0V1169.1M343.80,1279.0V1166.4M346.04,1279.0V1169.8M348.27,1279.0V1186.1M350.50,1279.0V1165.0M352.73,1279.0V1169.9M354.97,1279.0V1168.4M357.20,1279.0V1170.1M359.43,1279.0V1166.6M361.67,1279.0V1169.2M363.90,1279.0V1167.2M366.13,1279.0V1181.1M368.36,1279.0V1189.3M370.60,1279.0V1181.4M372.83,1279.0V1164.1M375.06,1279.0V1169.5M377.30,1279.0V1163.8M379.53,1279.0V1164.3M381.76,1279.0V1168.3M383.99,1279.0V1201.5M386.23,1279.0V1163.8M388.46,1279.0V1165.7M390.69,1279.0V1166.9M392.93,1279.0V1199.0M395.16,1279.0V1165.6M397.39,1279.0V1168.4M399.62,1279.0V1187.2M401.86,1279.0V1174.3M404.09,1279.0V1179.5M406.32,1279.0V1164.2M408.56,1279.0V1180.5M410.79,1279.0V1162.4M413.02,1279.0V1163.4M415.25,1279.0V1162.8M417.49,1279.0V1165.0M419.72,1279.0V1165.0M421.95,1279.0V1164.0M424.19,1279.0V1165.8M426.42,1279.0V1162.3M428.65,1279.0V1193.8M430.88,1279.0V1170.8M433.12,1279.0V1165.9M435.35,1279.0V1163.6M437.58,1279.0V1183.4M439.82,1279.0V1167.6M442.05,1279.0V1167.6M444.28,1279.0V1161.8M446.51,1279.0V1164.7M448.75,1279.0V1161.7M450.98,1279.0V1181.7M453.21,1279.0V1178.3M455.45,1279.0V1164.8M457.68,1279.0V1165.9M459.91,1279.0V1163.6M462.14,1279.0V1192.9M464.38,1279.0V1196.8M466.61,1279.0V1165.9M468.84,1279.0V1185.8M471.08,1279.0V1166.3M473.31,1279.0V1166.8M475.54,1279.0V1162.8M477.77,1279.0V1180.0M480.01,1279.0V1164.7M482.24,1279.0V1165.5M484.47,1279.0V1195.3M486.71,1279.0V1164.5M488.94,1279.0V1193.1M491.17,1279.0V1176.6M493.40,1279.0V1193.2M495.64,1279.0V1163.5M497.87,1279.0V1165.8M500.10,1279.0V1161.7M502.34,1279.0V1165.6M504.57,1279.0V1161.2M506.80,1279.0V1165.2M509.03,1279.0V1162.8M511.27,1279.0V1163.9M513.50,1279.0V1162.3M515.73,1279.0V1161.1M517.97,1279.0V1166.8M520.20,1279.0V1162.8M522.43,1279.0V1189.2M524.66,1279.0V1169.9M526.90,1279.0V1168.6M529.13,1279.0V1168.3M531.36,1279.0V1167.0M533.60,1279.0V1169.4M535.83,1279.0V1184.6M538.06,1279.0V1166.4M540.29,1279.0V1167.0M542.53,1279.0V1171.5M544.76,1279.0V1168.3M546.99,1279.0V1168.0M549.23,1279.0V1166.0M551.46,1279.0V1167.2M553.69,1279.0V1167.0M555.92,1279.0V1184.3M558.16,1279.0V1170.0M560.39,1279.0V1170.7M562.62,1279.0V1165.6M564.86,1279.0V1170.0M567.09,1279.0V1165.9M569.32,1279.0V1188.3M571.55,1279.0V1170.4M573.79,1279.0V1170.1M576.02,1279.0V1168.7M578.25,1279.0V1179.8M580.49,1279.0V1168.0M582.72,1279.0V1169.6M584.95,1279.0V1176.2M587.18,1279.0V1181.6M589.42,1279.0V1172.7M591.65,1279.0V1170.1M593.88,1279.0V1169.8M596.12,1279.0V1173.7M598.35,1279.0V1171.9M600.58,1279.0V1183.8M602.81,1279.0V1171.2M605.05,1279.0V1173.9M607.28,1279.0V1199.7M609.51,1279.0V1172.6M611.75,1279.0V1174.9M613.98,1279.0V1175.5M616.21,1279.0V1181.4M618.44,1279.0V1176.0M620.68,1279.0V1175.3M622.91,1279.0V1171.3M625.14,1279.0V1176.9M627.38,1279.0V1172.5M629.61,1279.0V1176.2M631.84,1279.0V1196.7M634.07,1279.0V1174.1M636.31,1279.0V1189.6M638.54,1279.0V1177.2M640.77,1279.0V1175.1M643.01,1279.0V1178.3M645.24,1279.0V1197.8M647.47,1279.0V1176.3M649.70,1279.0V1176.4M651.94,1279.0V1177.8M654.17,1279.0V1209.5M656.40,1279.0V1177.1M658.64,1279.0V1181.0M660.87,1279.0V1180.9M663.10,1279.0V1179.6M665.33,1279.0V1179.4M667.57,1279.0V1178.1M669.80,1279.0V1217.6M672.03,1279.0V1185.8M674.27,1279.0V1183.3M676.50,1279.0V1183.8M678.73,1279.0V1217.3M680.96,1279.0V1208.1M683.20,1279.0V1181.1M685.43,1279.0V1195.1M687.66,1279.0V1180.3M689.90,1279.0V1198.3M692.13,1279.0V1182.7M694.36,1279.0V1182.6M696.59,1279.0V1199.4M698.83,1279.0V1201.3M701.06,1279.0V1181.7M703.29,1279.0V1220.2M705.53,1279.0V1187.9M707.76,1279.0V1188.9M709.99,1279.0V1188.0M712.22,1279.0V1184.2M714.46,1279.0V1188.6M716.69,1279.0V1199.5M718.92,1279.0V1191.6M721.16,1279.0V1189.0M723.39,1279.0V1188.1M725.62,1279.0V1192.5M727.85,1279.0V1190.1M730.09,1279.0V1193.4M732.32,1279.0V1221.6M734.55,1279.0V1197.0M736.79,1279.0V1196.2M739.02,1279.0V1192.5M741.25,1279.0V1214.7M743.48,1279.0V1192.9M745.72,1279.0V1195.8M747.95,1279.0V1196.0M750.18,1279.0V1194.0M752.42,1279.0V1196.9M754.65,1279.0V1194.2M756.88,1279.0V1196.5M759.11,1279.0V1199.2M761.35,1279.0V1198.4M763.58,1279.0V1194.4M765.81,1279.0V1199.1M768.05,1279.0V1210.6M770.28,1279.0V1234.6M772.51,1279.0V1197.0M774.74,1279.0V1196.6M776.98,1279.0V1195.9M779.21,1279.0V1196.9M781.44,1279.0V1209.0M783.68,1279.0V1200.0M785.91,1279.0V1213.8M788.14,1279.0V1213.5M790.37,1279.0V1200.1M792.61,1279.0V1216.9M794.84,1279.0V1197.9M797.07,1279.0V1200.1M799.31,1279.0V1203.6M801.54,1279.0V1200.3M803.77,1279.0V1204.3M806.00,1279.0V1230.1M808.24,1279.0V1236.4M810.47,1279.0V1201.9M812.70,1279.0V1201.3M814.94,1279.0V1205.1M817.17,1279.0V1229.9M819.40,1279.0V1203.9M821.63,1279.0V1209.5M823.87,1279.0V1209.6M826.10,1279.0V1216.1M828.33,1279.0V1209.5M830.57,1279.0V1209.5M832.80,1279.0V1212.4M835.03,1279.0V1209.0M837.26,1279.0V1213.0M839.50,1279.0V1228.3M841.73,1279.0V1209.3M843.96,1279.0V1214.2M846.20,1279.0V1213.7M848.43,1279.0V1210.1M850.66,1279.0V1213.4M852.89,1279.0V1213.4M855.13,1279.0V1212.9M857.36,1279.0V1238.2M859.59,1279.0V1215.4M861.83,1279.0V1212.1M864.06,1279.0V1221.8M866.29,1279.0V1233.1M868.52,1279.0V1240.2M870.76,1279.0V1216.7M872.99,1279.0V1235.7M875.22,1279.0V1212.9M877.46,1279.0V1216.5M879.69,1279.0V1252.5M881.92,1279.0V1217.7M884.15,1279.0V1217.8M886.39,1279.0V1216.8M888.62,1279.0V1213.9M890.85,1279.0V1235.9M893.09,1279.0V1227.5M895.32,1279.0V1212.6M897.55,1279.0V1251.1M899.78,1279.0V1213.4M902.02,1279.0V1237.0M904.25,1279.0V1217.7M906.48,1279.0V1217.8M908.72,1279.0V1216.3M910.95,1279.0V1214.1M913.18,1279.0V1214.7M915.41,1279.0V1213.7M917.65,1279.0V1247.3M919.88,1279.0V1218.6M922.11,1279.0V1214.6M924.35,1279.0V1224.0M926.58,1279.0V1215.8M928.81,1279.0V1226.7M931.04,1279.0V1218.9M933.28,1279.0V1231.4M935.51,1279.0V1216.4M937.74,1279.0V1215.8M939.98,1279.0V1214.4M942.21,1279.0V1241.3M944.44,1279.0V1215.4" stroke="#f02a3a" stroke-width="0.9" fill="none" stroke-opacity="0.9"/>
<path d="M132.46,1279.0V1246.8M134.70,1279.0V1223.7M136.93,1279.0V1218.3M139.16,1279.0V1227.3M141.39,1279.0V1218.9M143.63,1279.0V1223.9M145.86,1279.0V1224.1M148.09,1279.0V1223.3M150.33,1279.0V1235.1M152.56,1279.0V1244.7M154.79,1279.0V1221.7M157.02,1279.0V1231.6M159.26,1279.0V1220.3M161.49,1279.0V1220.3M163.72,1279.0V1240.0M165.96,1279.0V1235.2M168.19,1279.0V1224.5M170.42,1279.0V1223.2M172.65,1279.0V1218.9M174.89,1279.0V1222.1M177.12,1279.0V1222.9M179.35,1279.0V1235.8M181.59,1279.0V1241.3M183.82,1279.0V1249.4M186.05,1279.0V1223.8M188.28,1279.0V1222.9M190.52,1279.0V1219.9M192.75,1279.0V1251.9M194.98,1279.0V1225.8M197.22,1279.0V1234.6M199.45,1279.0V1208.3M201.68,1279.0V1203.2M203.91,1279.0V1206.0M206.15,1279.0V1213.9M208.38,1279.0V1202.9M210.61,1279.0V1219.6M212.85,1279.0V1210.6M215.08,1279.0V1201.7M217.31,1279.0V1235.0M219.54,1279.0V1201.9M221.78,1279.0V1197.3M224.01,1279.0V1204.6M226.24,1279.0V1213.2M228.48,1279.0V1205.3M230.71,1279.0V1193.1M232.94,1279.0V1193.7M235.17,1279.0V1194.9M237.41,1279.0V1198.5M239.64,1279.0V1193.0M241.87,1279.0V1198.6M244.11,1279.0V1214.4M246.34,1279.0V1193.0M248.57,1279.0V1216.4M250.80,1279.0V1196.0M253.04,1279.0V1192.7M255.27,1279.0V1196.2M257.50,1279.0V1202.7M259.74,1279.0V1217.0M261.97,1279.0V1192.5M264.20,1279.0V1191.2M266.43,1279.0V1191.0M268.67,1279.0V1189.4M270.90,1279.0V1190.6M273.13,1279.0V1196.4M275.37,1279.0V1211.8M277.60,1279.0V1186.4M279.83,1279.0V1183.6M282.06,1279.0V1187.3M284.30,1279.0V1183.2M286.53,1279.0V1186.5M288.76,1279.0V1206.6M291.00,1279.0V1204.9M293.23,1279.0V1215.6M295.46,1279.0V1210.6M297.69,1279.0V1175.5M299.93,1279.0V1177.7M302.16,1279.0V1174.0M304.39,1279.0V1195.3M306.63,1279.0V1192.7M308.86,1279.0V1173.9M311.09,1279.0V1171.1M313.32,1279.0V1172.9M315.56,1279.0V1172.5M317.79,1279.0V1173.0M320.02,1279.0V1191.1M322.26,1279.0V1203.5M324.49,1279.0V1173.7M326.72,1279.0V1172.3M328.95,1279.0V1169.7M331.19,1279.0V1170.4M333.42,1279.0V1171.7M335.65,1279.0V1188.6M337.89,1279.0V1184.9M340.12,1279.0V1170.2M342.35,1279.0V1171.1M344.58,1279.0V1168.4M346.82,1279.0V1171.8M349.05,1279.0V1188.1M351.28,1279.0V1172.2M353.52,1279.0V1185.2M355.75,1279.0V1197.2M357.98,1279.0V1189.0M360.21,1279.0V1197.6M362.45,1279.0V1199.0M364.68,1279.0V1212.4M366.91,1279.0V1183.1M369.15,1279.0V1191.3M371.38,1279.0V1191.8M373.61,1279.0V1178.0M375.84,1279.0V1180.4M378.08,1279.0V1210.3M380.31,1279.0V1201.9M382.54,1279.0V1178.7M384.78,1279.0V1203.5M387.01,1279.0V1192.2M389.24,1279.0V1194.1M391.47,1279.0V1203.4M393.71,1279.0V1201.0M395.94,1279.0V1216.0M398.17,1279.0V1176.3M400.41,1279.0V1189.2M402.64,1279.0V1197.5M404.87,1279.0V1192.9M407.10,1279.0V1197.9M409.34,1279.0V1200.7M411.57,1279.0V1216.0M413.80,1279.0V1184.4M416.04,1279.0V1178.6M418.27,1279.0V1167.0M420.50,1279.0V1167.0M422.73,1279.0V1166.0M424.97,1279.0V1167.8M427.20,1279.0V1168.8M429.43,1279.0V1195.8M431.67,1279.0V1173.5M433.90,1279.0V1167.9M436.13,1279.0V1165.6M438.36,1279.0V1185.4M440.60,1279.0V1169.6M442.83,1279.0V1169.6M445.06,1279.0V1174.6M447.30,1279.0V1176.1M449.53,1279.0V1163.7M451.76,1279.0V1183.7M453.99,1279.0V1180.3M456.23,1279.0V1166.8M458.46,1279.0V1167.9M460.69,1279.0V1186.9M462.93,1279.0V1194.9M465.16,1279.0V1198.8M467.39,1279.0V1167.9M469.62,1279.0V1187.8M471.86,1279.0V1168.3M474.09,1279.0V1168.8M476.32,1279.0V1182.5M478.56,1279.0V1182.0M480.79,1279.0V1166.7M483.02,1279.0V1167.5M485.25,1279.0V1197.3M487.49,1279.0V1166.5M489.72,1279.0V1195.1M491.95,1279.0V1178.6M494.19,1279.0V1195.2M496.42,1279.0V1165.5M498.65,1279.0V1167.8M500.88,1279.0V1163.7M503.12,1279.0V1167.6M505.35,1279.0V1163.2M507.58,1279.0V1168.5M509.82,1279.0V1182.3M512.05,1279.0V1165.9M514.28,1279.0V1164.3M516.51,1279.0V1163.1M518.75,1279.0V1168.8M520.98,1279.0V1164.8M523.21,1279.0V1191.2M525.45,1279.0V1173.3M527.68,1279.0V1170.6M529.91,1279.0V1170.3M532.14,1279.0V1169.0M534.38,1279.0V1171.4M536.61,1279.0V1186.6M538.84,1279.0V1179.4M541.08,1279.0V1188.8M543.31,1279.0V1173.5M545.54,1279.0V1170.3M547.77,1279.0V1170.0M550.01,1279.0V1168.0M552.24,1279.0V1169.2M554.47,1279.0V1192.0M556.71,1279.0V1186.3M558.94,1279.0V1172.0M561.17,1279.0V1172.7M563.40,1279.0V1167.6M565.64,1279.0V1172.0M567.87,1279.0V1167.9M570.10,1279.0V1192.2M572.34,1279.0V1179.5M574.57,1279.0V1172.1M576.80,1279.0V1170.7M579.03,1279.0V1181.8M581.27,1279.0V1170.0M583.50,1279.0V1171.6M585.73,1279.0V1178.2M587.97,1279.0V1183.6M590.20,1279.0V1174.7M592.43,1279.0V1172.1M594.66,1279.0V1171.8M596.90,1279.0V1175.7M599.13,1279.0V1173.9M601.36,1279.0V1193.3M603.60,1279.0V1179.9M605.83,1279.0V1175.9M608.06,1279.0V1201.7M610.29,1279.0V1174.6M612.53,1279.0V1176.9M614.76,1279.0V1177.5M616.99,1279.0V1183.4M619.23,1279.0V1187.9M621.46,1279.0V1177.3M623.69,1279.0V1173.3M625.92,1279.0V1178.9M628.16,1279.0V1174.5M630.39,1279.0V1178.2M632.62,1279.0V1198.7M634.86,1279.0V1191.5M637.09,1279.0V1191.6M639.32,1279.0V1179.2M641.55,1279.0V1177.1M643.79,1279.0V1180.3M646.02,1279.0V1199.8M648.25,1279.0V1195.6M650.49,1279.0V1195.7M652.72,1279.0V1179.8M654.95,1279.0V1211.5M657.18,1279.0V1179.1M659.42,1279.0V1183.0M661.65,1279.0V1182.9M663.88,1279.0V1189.1M666.12,1279.0V1187.0M668.35,1279.0V1180.1M670.58,1279.0V1219.6M672.81,1279.0V1187.8M675.05,1279.0V1185.3M677.28,1279.0V1185.8M679.51,1279.0V1219.3M681.75,1279.0V1210.1M683.98,1279.0V1183.1M686.21,1279.0V1197.1M688.44,1279.0V1182.3M690.68,1279.0V1200.3M692.91,1279.0V1184.7M695.14,1279.0V1187.5M697.38,1279.0V1206.9M699.61,1279.0V1203.3M701.84,1279.0V1183.7M704.07,1279.0V1222.2M706.31,1279.0V1189.9M708.54,1279.0V1190.9M710.77,1279.0V1203.2M713.01,1279.0V1197.2M715.24,1279.0V1190.6M717.47,1279.0V1201.5M719.70,1279.0V1193.6M721.94,1279.0V1191.0M724.17,1279.0V1190.1M726.40,1279.0V1211.2M728.64,1279.0V1211.1M730.87,1279.0V1197.4M733.10,1279.0V1223.6M735.33,1279.0V1200.0M737.57,1279.0V1200.5M739.80,1279.0V1200.6M742.03,1279.0V1216.7M744.27,1279.0V1213.1M746.50,1279.0V1197.8M748.73,1279.0V1198.0M750.96,1279.0V1198.2M753.20,1279.0V1198.9M755.43,1279.0V1208.1M757.66,1279.0V1202.4M759.90,1279.0V1206.4M762.13,1279.0V1200.4M764.36,1279.0V1196.4M766.59,1279.0V1201.1M768.83,1279.0V1212.6M771.06,1279.0V1236.6M773.29,1279.0V1213.6M775.53,1279.0V1220.1M777.76,1279.0V1197.9M779.99,1279.0V1198.9M782.22,1279.0V1211.0M784.46,1279.0V1205.5M786.69,1279.0V1215.8M788.92,1279.0V1217.5M791.16,1279.0V1207.3M793.39,1279.0V1218.9M795.62,1279.0V1199.9M797.85,1279.0V1202.1M800.09,1279.0V1205.6M802.32,1279.0V1207.9M804.55,1279.0V1213.5M806.79,1279.0V1232.1M809.02,1279.0V1238.4M811.25,1279.0V1203.9M813.48,1279.0V1203.3M815.72,1279.0V1207.1M817.95,1279.0V1231.9M820.18,1279.0V1217.2M822.42,1279.0V1216.2M824.65,1279.0V1211.6M826.88,1279.0V1218.1M829.11,1279.0V1211.5M831.35,1279.0V1211.5M833.58,1279.0V1214.4M835.81,1279.0V1217.2M838.05,1279.0V1222.9M840.28,1279.0V1230.3M842.51,1279.0V1211.3M844.74,1279.0V1216.2M846.98,1279.0V1215.7M849.21,1279.0V1212.1M851.44,1279.0V1228.9M853.68,1279.0V1222.7M855.91,1279.0V1214.9M858.14,1279.0V1240.2M860.37,1279.0V1217.4M862.61,1279.0V1214.1M864.84,1279.0V1223.8M867.07,1279.0V1235.1M869.31,1279.0V1242.2M871.54,1279.0V1218.7M873.77,1279.0V1237.7M876.00,1279.0V1214.9M878.24,1279.0V1218.5M880.47,1279.0V1254.5M882.70,1279.0V1229.0M884.94,1279.0V1221.8M887.17,1279.0V1218.8M889.40,1279.0V1215.9M891.63,1279.0V1237.9M893.87,1279.0V1229.5M896.10,1279.0V1214.6M898.33,1279.0V1253.1M900.57,1279.0V1233.4M902.80,1279.0V1239.0M905.03,1279.0V1219.7M907.26,1279.0V1219.8M909.50,1279.0V1218.3M911.73,1279.0V1216.1M913.96,1279.0V1240.4M916.20,1279.0V1235.4M918.43,1279.0V1249.3M920.66,1279.0V1220.6M922.89,1279.0V1216.6M925.13,1279.0V1226.0M927.36,1279.0V1217.8M929.59,1279.0V1238.5M931.83,1279.0V1233.2M934.06,1279.0V1233.4M936.29,1279.0V1218.4M938.52,1279.0V1217.8M940.76,1279.0V1216.4M942.99,1279.0V1243.3M945.22,1279.0V1238.2" stroke="#3a6020" stroke-width="1.0" stroke-dasharray="2.2 2.2" fill="none" stroke-opacity="0.5"/>
<defs><pattern id="pb" width="4" height="3.6" patternUnits="userSpaceOnUse"><rect width="4" height="3.6" fill="#ec5a58"/><rect y="2.2" width="4" height="1.4" fill="#8a6038"/></pattern></defs>
<rect x="130.2" y="1241.0" width="815.0" height="38" fill="url(#pb)" fill-opacity="0.55"/>
<rect x="130.2" y="1279.0" width="815.0" height="2" fill="#c8c8c8"/>
<text x="99.0" y="1100.5" font-size="19" text-anchor="middle" fill="#1a1a1a" textLength="22.8" lengthAdjust="spacingAndGlyphs">100</text>
<text x="96.5" y="1137.2" font-size="19" text-anchor="middle" fill="#1a1a1a" textLength="15.2" lengthAdjust="spacingAndGlyphs">80</text>
<text x="96.5" y="1174.1" font-size="19" text-anchor="middle" fill="#1a1a1a" textLength="15.2" lengthAdjust="spacingAndGlyphs">60</text>
<text x="96.5" y="1211.4" font-size="19" text-anchor="middle" fill="#1a1a1a" textLength="15.2" lengthAdjust="spacingAndGlyphs">40</text>
<text x="96.5" y="1248.3" font-size="19" text-anchor="middle" fill="#1a1a1a" textLength="15.2" lengthAdjust="spacingAndGlyphs">20</text>
<text x="96.5" y="1285.0" font-size="19" text-anchor="middle" fill="#1a1a1a" textLength="7.6" lengthAdjust="spacingAndGlyphs">0</text>
<text transform="translate(73.2,1236.3) rotate(-90)" font-size="19" fill="#1a1a1a" textLength="229" lengthAdjust="spacingAndGlyphs">CONSUMO Y GENERACIÓN [kWh]</text>
<text transform="translate(200.1,1299.6) rotate(-45)" font-size="19.5" text-anchor="end" fill="#1a1a1a" textLength="37.1" lengthAdjust="spacingAndGlyphs">Enero</text>
<text transform="translate(264.2,1300.1) rotate(-45)" font-size="19.5" text-anchor="end" fill="#1a1a1a" textLength="48.9" lengthAdjust="spacingAndGlyphs">Febrero</text>
<text transform="translate(329.4,1299.6) rotate(-45)" font-size="19.5" text-anchor="end" fill="#1a1a1a" textLength="39.0" lengthAdjust="spacingAndGlyphs">Marzo</text>
<text transform="translate(394.0,1298.7) rotate(-45)" font-size="19.5" text-anchor="end" fill="#1a1a1a" textLength="27.6" lengthAdjust="spacingAndGlyphs">Abril</text>
<text transform="translate(456.5,1299.6) rotate(-45)" font-size="19.5" text-anchor="end" fill="#1a1a1a" textLength="32.2" lengthAdjust="spacingAndGlyphs">Mayo</text>
<text transform="translate(523.9,1300.1) rotate(-45)" font-size="19.5" text-anchor="end" fill="#1a1a1a" textLength="32.4" lengthAdjust="spacingAndGlyphs">Junio</text>
<text transform="translate(589.5,1300.0) rotate(-45)" font-size="19.5" text-anchor="end" fill="#1a1a1a" textLength="27.3" lengthAdjust="spacingAndGlyphs">Julio</text>
<text transform="translate(652.6,1299.5) rotate(-45)" font-size="19.5" text-anchor="end" fill="#1a1a1a" textLength="42.2" lengthAdjust="spacingAndGlyphs">Agosto</text>
<text transform="translate(719.4,1300.0) rotate(-45)" font-size="19.5" text-anchor="end" fill="#1a1a1a" textLength="63.4" lengthAdjust="spacingAndGlyphs">Setiembre</text>
<text transform="translate(784.8,1300.0) rotate(-45)" font-size="19.5" text-anchor="end" fill="#1a1a1a" textLength="49.4" lengthAdjust="spacingAndGlyphs">Octubre</text>
<text transform="translate(849.8,1300.0) rotate(-45)" font-size="19.5" text-anchor="end" fill="#1a1a1a" textLength="68.3" lengthAdjust="spacingAndGlyphs">Noviembre</text>
<text transform="translate(915.5,1300.0) rotate(-45)" font-size="19.5" text-anchor="end" fill="#1a1a1a" textLength="64.1" lengthAdjust="spacingAndGlyphs">Diciembre</text>
<text x="308.0" y="1367.7" font-size="20" text-anchor="start" fill="#1a1a1a" textLength="486.0" lengthAdjust="spacingAndGlyphs">GENERACIÓN DE ENERGIA VS. CONSUMO TOTAL DE LOS 4 EDIFICIOS</text>
<rect x="972.5" y="1221.8" width="16.6" height="16.2" fill="#2e7324" stroke="#1d4a1a" stroke-width="1"/><rect x="973.5" y="1227.5" width="14.6" height="1.6" fill="#143c14"/><rect x="973.5" y="1224.5" width="14.6" height="0.8" fill="#7aa870"/><rect x="973.5" y="1231" width="14.6" height="0.8" fill="#7aa870"/><rect x="973.5" y="1235" width="14.6" height="0.8" fill="#7aa870"/>
<rect x="973" y="1253" width="16.4" height="15.6" fill="#e8585a" stroke="#e51c24" stroke-width="1.1"/><rect x="975" y="1257" width="12" height="8" fill="#f07a8a" opacity="0.8"/>
<text x="995.8" y="1236.4" font-size="19.5" text-anchor="start" fill="#1a1a1a" textLength="64.0" lengthAdjust="spacingAndGlyphs">Consumo</text>
<text x="995.8" y="1268.2" font-size="19.5" text-anchor="start" fill="#1a1a1a" textLength="77.0" lengthAdjust="spacingAndGlyphs">Generación</text>
</svg></body></html>
